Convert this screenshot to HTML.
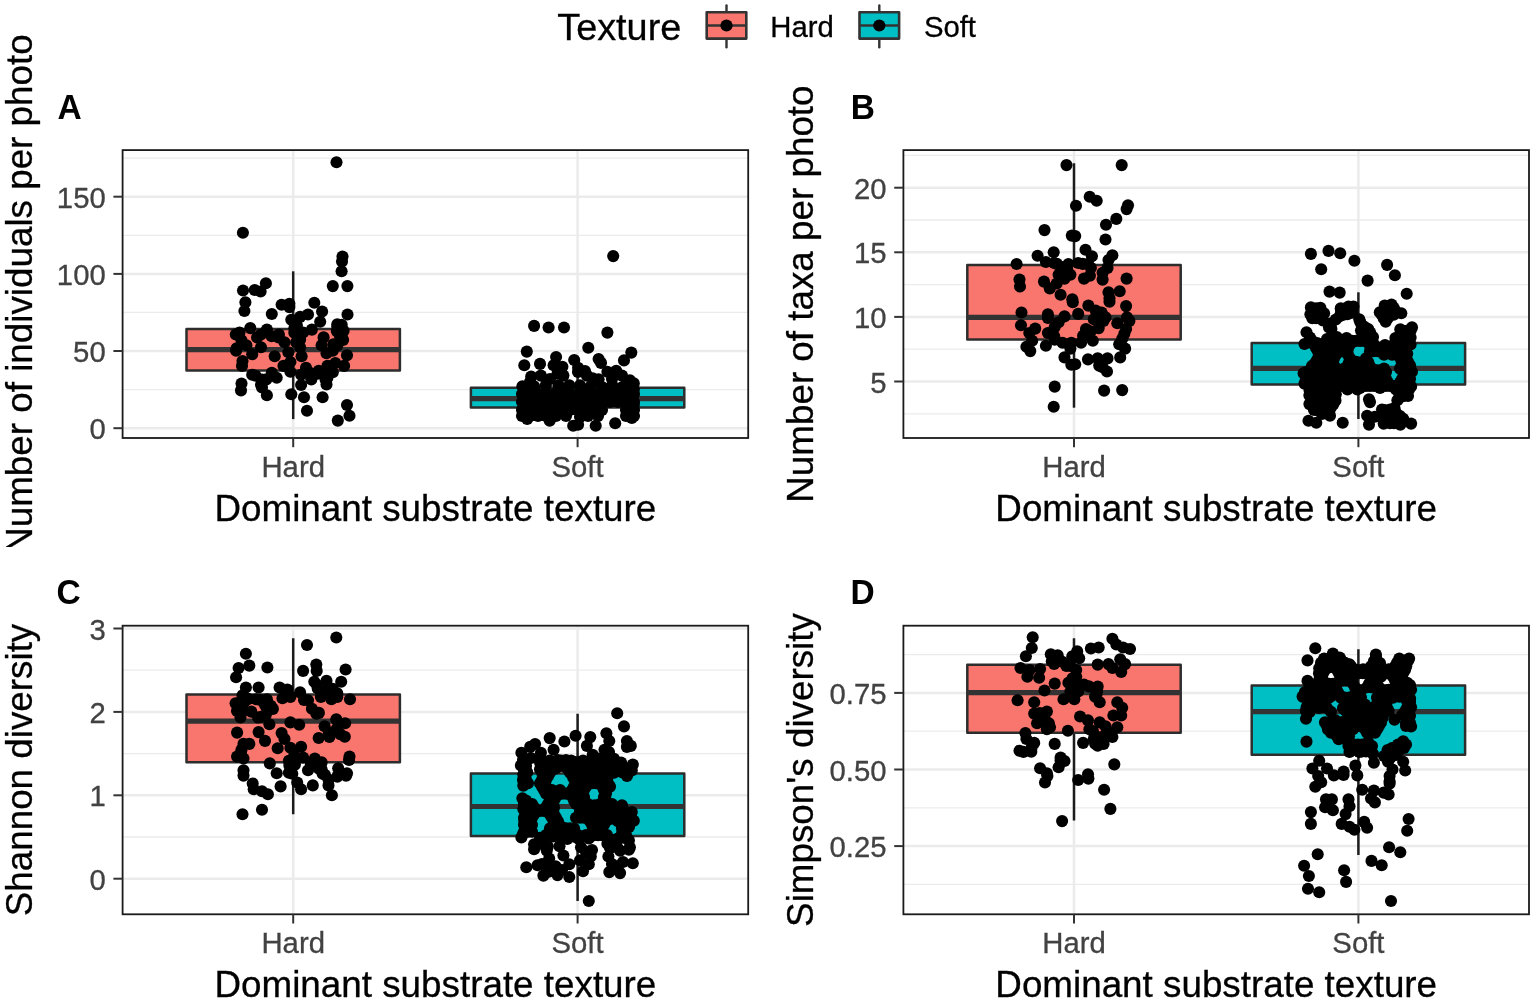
<!DOCTYPE html>
<html><head><meta charset="utf-8"><title>Boxplots</title>
<style>html,body{margin:0;padding:0;background:#fff;overflow:hidden}svg{display:block;font-family:'Liberation Sans', Arial, sans-serif}</style>
</head><body>
<svg width="1535" height="1002" viewBox="0 0 1535 1002">
<defs>
<clipPath id="ctop"><rect x="0" y="0" width="1535" height="547"/></clipPath>
<clipPath id="cbot"><rect x="0" y="547" width="1535" height="455"/></clipPath>
<clipPath id="pcA"><rect x="122.6" y="150.1" width="625.6" height="287.9"/></clipPath>
<clipPath id="pcB"><rect x="903.4" y="150.1" width="625.6" height="287.9"/></clipPath>
<clipPath id="pcC"><rect x="122.6" y="625.7" width="625.6" height="288.6"/></clipPath>
<clipPath id="pcD"><rect x="903.4" y="625.7" width="625.6" height="288.6"/></clipPath>
</defs>
<rect width="1535" height="1002" fill="#fff"/>
<text transform="translate(557.3,40.1)" font-size="37.8" fill="#000" stroke="#000" stroke-width="0.3">Texture</text>
<line x1="726.5" y1="5.4" x2="726.5" y2="47.2" stroke="#333333" stroke-width="2.4" stroke-linecap="round"/>
<rect x="706.7" y="12.2" width="39.6" height="26.4" fill="#F8766D" stroke="#333333" stroke-width="2.6" stroke-linejoin="round"/>
<line x1="706.7" y1="25.5" x2="746.3" y2="25.5" stroke="#333333" stroke-width="2.6"/>
<circle cx="726.5" cy="25.5" r="6.1" fill="#000"/>
<text transform="translate(770.3,37.0) scale(1,1.02)" font-size="29.3" fill="#000" stroke="#000" stroke-width="0.3">Hard</text>
<line x1="879.3" y1="5.4" x2="879.3" y2="47.2" stroke="#333333" stroke-width="2.4" stroke-linecap="round"/>
<rect x="859.5" y="12.2" width="39.6" height="26.4" fill="#00BFC4" stroke="#333333" stroke-width="2.6" stroke-linejoin="round"/>
<line x1="859.5" y1="25.5" x2="899.1" y2="25.5" stroke="#333333" stroke-width="2.6"/>
<circle cx="879.3" cy="25.5" r="6.1" fill="#000"/>
<text transform="translate(923.9,37.0) scale(1,1.02)" font-size="29.3" fill="#000" stroke="#000" stroke-width="0.3">Soft</text>
<g clip-path="url(#pcA)"><line x1="122.6" y1="389.6" x2="748.2" y2="389.6" stroke="#EBEBEB" stroke-width="1.3"/><line x1="122.6" y1="312.4" x2="748.2" y2="312.4" stroke="#EBEBEB" stroke-width="1.3"/><line x1="122.6" y1="235.3" x2="748.2" y2="235.3" stroke="#EBEBEB" stroke-width="1.3"/><line x1="122.6" y1="158.1" x2="748.2" y2="158.1" stroke="#EBEBEB" stroke-width="1.3"/><line x1="122.6" y1="428.2" x2="748.2" y2="428.2" stroke="#EBEBEB" stroke-width="2.5"/><line x1="122.6" y1="351.0" x2="748.2" y2="351.0" stroke="#EBEBEB" stroke-width="2.5"/><line x1="122.6" y1="273.9" x2="748.2" y2="273.9" stroke="#EBEBEB" stroke-width="2.5"/><line x1="122.6" y1="196.7" x2="748.2" y2="196.7" stroke="#EBEBEB" stroke-width="2.5"/><line x1="293.2" y1="150.1" x2="293.2" y2="438.0" stroke="#EBEBEB" stroke-width="2.5"/><line x1="577.6" y1="150.1" x2="577.6" y2="438.0" stroke="#EBEBEB" stroke-width="2.5"/><line x1="293.2" y1="271.3" x2="293.2" y2="329.1" stroke="#1c1c1c" stroke-width="2.5"/><line x1="293.2" y1="370.6" x2="293.2" y2="419.1" stroke="#1c1c1c" stroke-width="2.5"/><rect x="186.5" y="329.1" width="213.4" height="41.5" fill="#F8766D" stroke="#2d2d2d" stroke-width="2.5" stroke-linejoin="round"/><line x1="186.5" y1="349.6" x2="399.9" y2="349.6" stroke="#333333" stroke-width="5.2"/><line x1="577.6" y1="362.0" x2="577.6" y2="387.8" stroke="#1c1c1c" stroke-width="2.5"/><line x1="577.6" y1="407.4" x2="577.6" y2="426.5" stroke="#1c1c1c" stroke-width="2.5"/><rect x="470.9" y="387.8" width="213.4" height="19.6" fill="#00BFC4" stroke="#2d2d2d" stroke-width="2.5" stroke-linejoin="round"/><line x1="470.9" y1="398.7" x2="684.3" y2="398.7" stroke="#333333" stroke-width="5.2"/><g fill="#000"><circle cx="336.5" cy="162.3" r="6.05"/><circle cx="242.9" cy="232.8" r="6.05"/><circle cx="342.5" cy="256.6" r="6.05"/><circle cx="342.0" cy="261.5" r="6.05"/><circle cx="341.6" cy="271.2" r="6.05"/><circle cx="332.8" cy="286.1" r="6.05"/><circle cx="347.4" cy="286.1" r="6.05"/><circle cx="265.9" cy="283.2" r="6.05"/><circle cx="243.0" cy="290.5" r="6.05"/><circle cx="254.7" cy="290.0" r="6.05"/><circle cx="260.6" cy="291.5" r="6.05"/><circle cx="245.4" cy="302.2" r="6.05"/><circle cx="244.4" cy="311.0" r="6.05"/><circle cx="271.8" cy="314.0" r="6.05"/><circle cx="281.6" cy="304.7" r="6.05"/><circle cx="289.4" cy="303.7" r="6.05"/><circle cx="289.4" cy="307.1" r="6.05"/><circle cx="314.3" cy="302.7" r="6.05"/><circle cx="322.1" cy="311.5" r="6.05"/><circle cx="308.0" cy="314.5" r="6.05"/><circle cx="300.1" cy="316.9" r="6.05"/><circle cx="291.3" cy="319.8" r="6.05"/><circle cx="320.2" cy="321.8" r="6.05"/><circle cx="347.5" cy="314.5" r="6.05"/><circle cx="337.3" cy="324.2" r="6.05"/><circle cx="341.7" cy="324.7" r="6.05"/><circle cx="336.8" cy="331.1" r="6.05"/><circle cx="250.3" cy="328.1" r="6.05"/><circle cx="239.5" cy="332.5" r="6.05"/><circle cx="266.9" cy="329.6" r="6.05"/><circle cx="257.1" cy="337.4" r="6.05"/><circle cx="278.6" cy="337.4" r="6.05"/><circle cx="294.3" cy="328.6" r="6.05"/><circle cx="303.1" cy="332.5" r="6.05"/><circle cx="311.9" cy="329.6" r="6.05"/><circle cx="323.6" cy="337.4" r="6.05"/><circle cx="343.1" cy="339.9" r="6.05"/><circle cx="241.5" cy="340.4" r="6.05"/><circle cx="246.4" cy="345.2" r="6.05"/><circle cx="236.6" cy="348.2" r="6.05"/><circle cx="261.0" cy="347.2" r="6.05"/><circle cx="284.5" cy="342.3" r="6.05"/><circle cx="296.2" cy="342.3" r="6.05"/><circle cx="300.1" cy="347.2" r="6.05"/><circle cx="321.6" cy="345.2" r="6.05"/><circle cx="333.4" cy="344.3" r="6.05"/><circle cx="236.1" cy="350.8" r="6.05"/><circle cx="252.2" cy="354.2" r="6.05"/><circle cx="242.5" cy="361.0" r="6.05"/><circle cx="242.0" cy="365.9" r="6.05"/><circle cx="274.7" cy="356.2" r="6.05"/><circle cx="288.4" cy="352.2" r="6.05"/><circle cx="294.3" cy="322.9" r="6.05"/><circle cx="294.3" cy="332.7" r="6.05"/><circle cx="300.1" cy="339.5" r="6.05"/><circle cx="301.6" cy="356.2" r="6.05"/><circle cx="290.4" cy="362.0" r="6.05"/><circle cx="283.5" cy="365.9" r="6.05"/><circle cx="290.4" cy="371.8" r="6.05"/><circle cx="306.0" cy="367.9" r="6.05"/><circle cx="326.5" cy="353.2" r="6.05"/><circle cx="337.3" cy="326.8" r="6.05"/><circle cx="337.3" cy="345.4" r="6.05"/><circle cx="347.0" cy="355.2" r="6.05"/><circle cx="344.1" cy="365.9" r="6.05"/><circle cx="335.3" cy="363.0" r="6.05"/><circle cx="327.5" cy="365.9" r="6.05"/><circle cx="318.7" cy="370.8" r="6.05"/><circle cx="327.5" cy="374.7" r="6.05"/><circle cx="326.5" cy="384.5" r="6.05"/><circle cx="309.9" cy="372.8" r="6.05"/><circle cx="301.1" cy="374.7" r="6.05"/><circle cx="301.1" cy="385.0" r="6.05"/><circle cx="271.8" cy="372.8" r="6.05"/><circle cx="276.7" cy="377.7" r="6.05"/><circle cx="252.2" cy="374.7" r="6.05"/><circle cx="262.0" cy="379.6" r="6.05"/><circle cx="262.0" cy="387.4" r="6.05"/><circle cx="241.5" cy="383.5" r="6.05"/><circle cx="241.0" cy="390.4" r="6.05"/><circle cx="266.9" cy="395.2" r="6.05"/><circle cx="291.3" cy="394.3" r="6.05"/><circle cx="304.0" cy="397.2" r="6.05"/><circle cx="322.6" cy="397.2" r="6.05"/><circle cx="307.0" cy="410.8" r="6.05"/><circle cx="327.5" cy="377.6" r="6.05"/><circle cx="317.7" cy="373.7" r="6.05"/><circle cx="347.0" cy="405.0" r="6.05"/><circle cx="349.5" cy="415.7" r="6.05"/><circle cx="337.8" cy="420.6" r="6.05"/><circle cx="260.9" cy="334.5" r="6.05"/><circle cx="271.7" cy="336.3" r="6.05"/><circle cx="278.9" cy="334.5" r="6.05"/><circle cx="255.6" cy="375.8" r="6.05"/><circle cx="266.3" cy="379.4" r="6.05"/><circle cx="261.0" cy="384.8" r="6.05"/><circle cx="305.9" cy="372.2" r="6.05"/><circle cx="332.8" cy="372.2" r="6.05"/><circle cx="311.3" cy="379.4" r="6.05"/><circle cx="325.6" cy="379.4" r="6.05"/><circle cx="343.6" cy="330.9" r="6.05"/><circle cx="340.0" cy="336.3" r="6.05"/><circle cx="296.9" cy="325.5" r="6.05"/><circle cx="300.5" cy="334.5" r="6.05"/><circle cx="235.8" cy="334.5" r="6.05"/><circle cx="332.8" cy="350.6" r="6.05"/><circle cx="613.2" cy="256.1" r="6.05"/><circle cx="534.1" cy="325.9" r="6.05"/><circle cx="548.6" cy="327.5" r="6.05"/><circle cx="564.0" cy="327.5" r="6.05"/><circle cx="607.4" cy="332.6" r="6.05"/><circle cx="526.8" cy="351.6" r="6.05"/><circle cx="588.3" cy="347.7" r="6.05"/><circle cx="631.3" cy="352.6" r="6.05"/><circle cx="624.0" cy="360.4" r="6.05"/><circle cx="598.6" cy="359.0" r="6.05"/><circle cx="601.0" cy="362.9" r="6.05"/><circle cx="524.3" cy="365.3" r="6.05"/><circle cx="540.0" cy="363.9" r="6.05"/><circle cx="556.1" cy="357.0" r="6.05"/><circle cx="553.6" cy="365.3" r="6.05"/><circle cx="562.4" cy="366.8" r="6.05"/><circle cx="574.2" cy="360.0" r="6.05"/><circle cx="578.1" cy="367.8" r="6.05"/><circle cx="531.2" cy="376.6" r="6.05"/><circle cx="540.9" cy="375.6" r="6.05"/><circle cx="557.5" cy="373.6" r="6.05"/><circle cx="522.4" cy="386.3" r="6.05"/><circle cx="586.9" cy="375.6" r="6.05"/><circle cx="596.6" cy="381.5" r="6.05"/><circle cx="607.4" cy="371.7" r="6.05"/><circle cx="616.2" cy="370.7" r="6.05"/><circle cx="622.0" cy="375.6" r="6.05"/><circle cx="633.8" cy="383.4" r="6.05"/><circle cx="626.9" cy="381.5" r="6.05"/><circle cx="563.4" cy="375.6" r="6.05"/><circle cx="534.1" cy="386.3" r="6.05"/><circle cx="545.8" cy="385.4" r="6.05"/><circle cx="558.5" cy="385.4" r="6.05"/><circle cx="569.3" cy="385.4" r="6.05"/><circle cx="580.0" cy="385.4" r="6.05"/><circle cx="590.8" cy="386.3" r="6.05"/><circle cx="602.5" cy="387.3" r="6.05"/><circle cx="612.3" cy="385.4" r="6.05"/><circle cx="622.0" cy="387.3" r="6.05"/><circle cx="633.8" cy="389.3" r="6.05"/><circle cx="527.2" cy="418.9" r="6.05"/><circle cx="549.7" cy="420.8" r="6.05"/><circle cx="573.2" cy="425.7" r="6.05"/><circle cx="578.1" cy="424.7" r="6.05"/><circle cx="595.7" cy="425.7" r="6.05"/><circle cx="615.2" cy="423.3" r="6.05"/><circle cx="631.8" cy="417.9" r="6.05"/><circle cx="522.0" cy="394.0" r="6.05"/><circle cx="530.0" cy="394.0" r="6.05"/><circle cx="538.0" cy="394.0" r="6.05"/><circle cx="546.0" cy="394.0" r="6.05"/><circle cx="554.0" cy="394.0" r="6.05"/><circle cx="562.0" cy="394.0" r="6.05"/><circle cx="570.0" cy="394.0" r="6.05"/><circle cx="578.0" cy="394.0" r="6.05"/><circle cx="586.0" cy="394.0" r="6.05"/><circle cx="594.0" cy="394.0" r="6.05"/><circle cx="602.0" cy="394.0" r="6.05"/><circle cx="610.0" cy="394.0" r="6.05"/><circle cx="618.0" cy="394.0" r="6.05"/><circle cx="626.0" cy="394.0" r="6.05"/><circle cx="634.0" cy="394.0" r="6.05"/><circle cx="522.0" cy="402.0" r="6.05"/><circle cx="530.0" cy="402.0" r="6.05"/><circle cx="538.0" cy="402.0" r="6.05"/><circle cx="546.0" cy="402.0" r="6.05"/><circle cx="554.0" cy="402.0" r="6.05"/><circle cx="562.0" cy="402.0" r="6.05"/><circle cx="570.0" cy="402.0" r="6.05"/><circle cx="578.0" cy="402.0" r="6.05"/><circle cx="586.0" cy="402.0" r="6.05"/><circle cx="594.0" cy="402.0" r="6.05"/><circle cx="602.0" cy="402.0" r="6.05"/><circle cx="610.0" cy="402.0" r="6.05"/><circle cx="618.0" cy="402.0" r="6.05"/><circle cx="626.0" cy="402.0" r="6.05"/><circle cx="634.0" cy="402.0" r="6.05"/><circle cx="522.0" cy="410.0" r="6.05"/><circle cx="530.0" cy="410.0" r="6.05"/><circle cx="538.0" cy="410.0" r="6.05"/><circle cx="546.0" cy="410.0" r="6.05"/><circle cx="554.0" cy="410.0" r="6.05"/><circle cx="562.0" cy="410.0" r="6.05"/><circle cx="570.0" cy="410.0" r="6.05"/><circle cx="578.0" cy="410.0" r="6.05"/><circle cx="586.0" cy="410.0" r="6.05"/><circle cx="594.0" cy="410.0" r="6.05"/><circle cx="602.0" cy="410.0" r="6.05"/><circle cx="626.0" cy="410.0" r="6.05"/><circle cx="634.0" cy="410.0" r="6.05"/><circle cx="522.0" cy="416.0" r="6.05"/><circle cx="530.0" cy="416.0" r="6.05"/><circle cx="538.0" cy="416.0" r="6.05"/><circle cx="546.0" cy="416.0" r="6.05"/><circle cx="556.0" cy="416.0" r="6.05"/><circle cx="566.0" cy="416.0" r="6.05"/><circle cx="588.0" cy="416.0" r="6.05"/><circle cx="598.0" cy="416.0" r="6.05"/><circle cx="626.0" cy="416.0" r="6.05"/><circle cx="634.0" cy="416.0" r="6.05"/><circle cx="633.8" cy="405.0" r="6.05"/><circle cx="550.0" cy="379.0" r="6.05"/><circle cx="592.7" cy="378.2" r="6.05"/><circle cx="598.6" cy="379.2" r="6.05"/><circle cx="629.9" cy="380.2" r="6.05"/><circle cx="585.0" cy="371.0" r="6.05"/><circle cx="612.0" cy="379.0" r="6.05"/><circle cx="530.0" cy="382.0" r="6.05"/><circle cx="578.0" cy="372.0" r="6.05"/><circle cx="580.0" cy="417.0" r="6.05"/><circle cx="584.0" cy="412.0" r="6.05"/></g></g>
<rect x="122.6" y="150.1" width="625.6" height="287.9" fill="none" stroke="#1a1a1a" stroke-width="1.8"/>
<line x1="113.4" y1="428.2" x2="122.6" y2="428.2" stroke="#333333" stroke-width="2"/>
<text transform="translate(105.7,439.2) scale(1,1.035)" font-size="29.3" fill="#424242" stroke="#424242" stroke-width="0.3" text-anchor="end">0</text>
<line x1="113.4" y1="351.0" x2="122.6" y2="351.0" stroke="#333333" stroke-width="2"/>
<text transform="translate(105.7,362.0) scale(1,1.035)" font-size="29.3" fill="#424242" stroke="#424242" stroke-width="0.3" text-anchor="end">50</text>
<line x1="113.4" y1="273.9" x2="122.6" y2="273.9" stroke="#333333" stroke-width="2"/>
<text transform="translate(105.7,284.9) scale(1,1.035)" font-size="29.3" fill="#424242" stroke="#424242" stroke-width="0.3" text-anchor="end">100</text>
<line x1="113.4" y1="196.7" x2="122.6" y2="196.7" stroke="#333333" stroke-width="2"/>
<text transform="translate(105.7,207.7) scale(1,1.035)" font-size="29.3" fill="#424242" stroke="#424242" stroke-width="0.3" text-anchor="end">150</text>
<line x1="293.2" y1="438.0" x2="293.2" y2="447.2" stroke="#333333" stroke-width="2"/>
<text transform="translate(293.2,477.0) scale(1,1.02)" font-size="29.3" fill="#424242" stroke="#424242" stroke-width="0.3" text-anchor="middle">Hard</text>
<line x1="577.6" y1="438.0" x2="577.6" y2="447.2" stroke="#333333" stroke-width="2"/>
<text transform="translate(577.6,477.0) scale(1,1.02)" font-size="29.3" fill="#424242" stroke="#424242" stroke-width="0.3" text-anchor="middle">Soft</text>
<text transform="translate(435.4,520.6)" font-size="36.8" fill="#000" stroke="#000" stroke-width="0.3" text-anchor="middle">Dominant substrate texture</text>
<g clip-path="url(#ctop)"><text transform="translate(32.3,294.1) rotate(-90)" font-size="36.8" fill="#000" stroke="#000" stroke-width="0.3" text-anchor="middle">Number of individuals per photo</text></g>
<text transform="translate(57.4,119.1) scale(1,1.03)" font-size="33.5" fill="#000" font-weight="bold">A</text>
<g clip-path="url(#pcB)"><line x1="903.4" y1="413.8" x2="1529.0" y2="413.8" stroke="#EBEBEB" stroke-width="1.3"/><line x1="903.4" y1="349.2" x2="1529.0" y2="349.2" stroke="#EBEBEB" stroke-width="1.3"/><line x1="903.4" y1="284.6" x2="1529.0" y2="284.6" stroke="#EBEBEB" stroke-width="1.3"/><line x1="903.4" y1="220.0" x2="1529.0" y2="220.0" stroke="#EBEBEB" stroke-width="1.3"/><line x1="903.4" y1="155.4" x2="1529.0" y2="155.4" stroke="#EBEBEB" stroke-width="1.3"/><line x1="903.4" y1="381.5" x2="1529.0" y2="381.5" stroke="#EBEBEB" stroke-width="2.5"/><line x1="903.4" y1="316.9" x2="1529.0" y2="316.9" stroke="#EBEBEB" stroke-width="2.5"/><line x1="903.4" y1="252.3" x2="1529.0" y2="252.3" stroke="#EBEBEB" stroke-width="2.5"/><line x1="903.4" y1="187.7" x2="1529.0" y2="187.7" stroke="#EBEBEB" stroke-width="2.5"/><line x1="1074.0" y1="150.1" x2="1074.0" y2="438.0" stroke="#EBEBEB" stroke-width="2.5"/><line x1="1358.4" y1="150.1" x2="1358.4" y2="438.0" stroke="#EBEBEB" stroke-width="2.5"/><line x1="1074.0" y1="163.2" x2="1074.0" y2="265.0" stroke="#1c1c1c" stroke-width="2.5"/><line x1="1074.0" y1="339.6" x2="1074.0" y2="407.7" stroke="#1c1c1c" stroke-width="2.5"/><rect x="967.3" y="265.0" width="213.4" height="74.6" fill="#F8766D" stroke="#2d2d2d" stroke-width="2.5" stroke-linejoin="round"/><line x1="967.3" y1="317.4" x2="1180.7" y2="317.4" stroke="#333333" stroke-width="5.2"/><line x1="1358.4" y1="292.3" x2="1358.4" y2="342.9" stroke="#1c1c1c" stroke-width="2.5"/><line x1="1358.4" y1="384.5" x2="1358.4" y2="419.0" stroke="#1c1c1c" stroke-width="2.5"/><rect x="1251.7" y="342.9" width="213.4" height="41.6" fill="#00BFC4" stroke="#2d2d2d" stroke-width="2.5" stroke-linejoin="round"/><line x1="1251.7" y1="368.4" x2="1465.1" y2="368.4" stroke="#333333" stroke-width="5.2"/><g fill="#000"><circle cx="1066.5" cy="165.1" r="6.05"/><circle cx="1121.7" cy="165.1" r="6.05"/><circle cx="1089.7" cy="196.7" r="6.05"/><circle cx="1096.7" cy="200.8" r="6.05"/><circle cx="1076.0" cy="205.7" r="6.05"/><circle cx="1128.0" cy="205.2" r="6.05"/><circle cx="1126.6" cy="209.1" r="6.05"/><circle cx="1116.3" cy="218.9" r="6.05"/><circle cx="1106.0" cy="224.8" r="6.05"/><circle cx="1044.5" cy="230.1" r="6.05"/><circle cx="1071.8" cy="235.6" r="6.05"/><circle cx="1075.2" cy="236.1" r="6.05"/><circle cx="1105.5" cy="239.5" r="6.05"/><circle cx="1085.5" cy="249.8" r="6.05"/><circle cx="1091.9" cy="256.2" r="6.05"/><circle cx="1037.6" cy="255.7" r="6.05"/><circle cx="1053.7" cy="252.2" r="6.05"/><circle cx="1016.6" cy="264.0" r="6.05"/><circle cx="1112.4" cy="255.2" r="6.05"/><circle cx="1108.5" cy="260.1" r="6.05"/><circle cx="1045.9" cy="262.0" r="6.05"/><circle cx="1054.2" cy="263.0" r="6.05"/><circle cx="1060.6" cy="266.9" r="6.05"/><circle cx="1068.4" cy="264.0" r="6.05"/><circle cx="1078.2" cy="263.0" r="6.05"/><circle cx="1088.0" cy="264.0" r="6.05"/><circle cx="1090.9" cy="267.9" r="6.05"/><circle cx="1107.5" cy="267.9" r="6.05"/><circle cx="1102.6" cy="272.8" r="6.05"/><circle cx="1102.6" cy="279.6" r="6.05"/><circle cx="1070.4" cy="274.7" r="6.05"/><circle cx="1064.5" cy="278.6" r="6.05"/><circle cx="1058.6" cy="274.7" r="6.05"/><circle cx="1084.0" cy="278.6" r="6.05"/><circle cx="1089.9" cy="275.7" r="6.05"/><circle cx="1019.5" cy="279.6" r="6.05"/><circle cx="1020.0" cy="286.5" r="6.05"/><circle cx="1044.0" cy="281.6" r="6.05"/><circle cx="1049.8" cy="288.4" r="6.05"/><circle cx="1056.7" cy="283.5" r="6.05"/><circle cx="1060.6" cy="294.8" r="6.05"/><circle cx="1072.3" cy="299.2" r="6.05"/><circle cx="1126.6" cy="278.6" r="6.05"/><circle cx="1108.5" cy="292.3" r="6.05"/><circle cx="1119.7" cy="291.3" r="6.05"/><circle cx="1109.5" cy="298.2" r="6.05"/><circle cx="1072.8" cy="302.2" r="6.05"/><circle cx="1088.4" cy="305.6" r="6.05"/><circle cx="1109.5" cy="301.7" r="6.05"/><circle cx="1126.1" cy="306.1" r="6.05"/><circle cx="1021.5" cy="312.5" r="6.05"/><circle cx="1047.9" cy="314.4" r="6.05"/><circle cx="1047.9" cy="317.9" r="6.05"/><circle cx="1064.5" cy="316.4" r="6.05"/><circle cx="1078.2" cy="313.9" r="6.05"/><circle cx="1058.6" cy="322.2" r="6.05"/><circle cx="1054.7" cy="327.1" r="6.05"/><circle cx="1101.6" cy="312.5" r="6.05"/><circle cx="1105.5" cy="317.4" r="6.05"/><circle cx="1093.8" cy="319.3" r="6.05"/><circle cx="1098.7" cy="328.1" r="6.05"/><circle cx="1086.0" cy="329.1" r="6.05"/><circle cx="1127.0" cy="317.4" r="6.05"/><circle cx="1117.3" cy="323.2" r="6.05"/><circle cx="1126.1" cy="329.1" r="6.05"/><circle cx="1021.0" cy="325.2" r="6.05"/><circle cx="1035.2" cy="328.6" r="6.05"/><circle cx="1029.3" cy="333.0" r="6.05"/><circle cx="1047.9" cy="333.0" r="6.05"/><circle cx="1054.7" cy="339.8" r="6.05"/><circle cx="1032.2" cy="340.8" r="6.05"/><circle cx="1026.4" cy="346.7" r="6.05"/><circle cx="1030.3" cy="351.1" r="6.05"/><circle cx="1045.9" cy="345.7" r="6.05"/><circle cx="1062.5" cy="342.8" r="6.05"/><circle cx="1071.3" cy="342.8" r="6.05"/><circle cx="1070.4" cy="348.6" r="6.05"/><circle cx="1081.1" cy="342.8" r="6.05"/><circle cx="1083.1" cy="335.9" r="6.05"/><circle cx="1092.8" cy="340.8" r="6.05"/><circle cx="1122.2" cy="338.9" r="6.05"/><circle cx="1119.2" cy="344.2" r="6.05"/><circle cx="1125.1" cy="348.6" r="6.05"/><circle cx="1120.2" cy="357.4" r="6.05"/><circle cx="1064.5" cy="357.4" r="6.05"/><circle cx="1075.2" cy="364.3" r="6.05"/><circle cx="1088.0" cy="359.4" r="6.05"/><circle cx="1097.7" cy="358.4" r="6.05"/><circle cx="1107.5" cy="358.4" r="6.05"/><circle cx="1102.6" cy="367.2" r="6.05"/><circle cx="1071.3" cy="364.7" r="6.05"/><circle cx="1099.2" cy="365.6" r="6.05"/><circle cx="1107.0" cy="371.5" r="6.05"/><circle cx="1054.7" cy="386.6" r="6.05"/><circle cx="1053.7" cy="406.7" r="6.05"/><circle cx="1104.1" cy="390.6" r="6.05"/><circle cx="1122.2" cy="390.1" r="6.05"/><circle cx="1056.9" cy="263.9" r="6.05"/><circle cx="1067.2" cy="269.1" r="6.05"/><circle cx="1082.8" cy="263.9" r="6.05"/><circle cx="1095.7" cy="310.6" r="6.05"/><circle cx="1103.5" cy="320.9" r="6.05"/><circle cx="1090.6" cy="331.3" r="6.05"/><circle cx="1124.3" cy="333.9" r="6.05"/><circle cx="1129.4" cy="320.9" r="6.05"/><circle cx="1054.3" cy="336.5" r="6.05"/><circle cx="1310.9" cy="253.9" r="6.05"/><circle cx="1328.5" cy="250.9" r="6.05"/><circle cx="1340.2" cy="253.2" r="6.05"/><circle cx="1354.4" cy="260.7" r="6.05"/><circle cx="1321.2" cy="269.3" r="6.05"/><circle cx="1387.1" cy="264.9" r="6.05"/><circle cx="1394.9" cy="275.2" r="6.05"/><circle cx="1367.6" cy="280.6" r="6.05"/><circle cx="1329.5" cy="291.6" r="6.05"/><circle cx="1339.7" cy="292.6" r="6.05"/><circle cx="1406.7" cy="293.7" r="6.05"/><circle cx="1310.9" cy="307.4" r="6.05"/><circle cx="1316.3" cy="308.4" r="6.05"/><circle cx="1310.4" cy="314.3" r="6.05"/><circle cx="1324.1" cy="313.3" r="6.05"/><circle cx="1340.7" cy="308.4" r="6.05"/><circle cx="1348.5" cy="306.5" r="6.05"/><circle cx="1353.4" cy="306.5" r="6.05"/><circle cx="1339.7" cy="316.2" r="6.05"/><circle cx="1347.5" cy="314.3" r="6.05"/><circle cx="1359.3" cy="319.2" r="6.05"/><circle cx="1384.7" cy="305.5" r="6.05"/><circle cx="1391.5" cy="304.5" r="6.05"/><circle cx="1379.8" cy="312.3" r="6.05"/><circle cx="1388.6" cy="312.3" r="6.05"/><circle cx="1401.3" cy="313.3" r="6.05"/><circle cx="1343.6" cy="314.7" r="6.05"/><circle cx="1335.8" cy="319.5" r="6.05"/><circle cx="1329.0" cy="327.4" r="6.05"/><circle cx="1365.1" cy="327.4" r="6.05"/><circle cx="1400.3" cy="329.3" r="6.05"/><circle cx="1412.0" cy="327.4" r="6.05"/><circle cx="1306.5" cy="332.2" r="6.05"/><circle cx="1304.5" cy="344.0" r="6.05"/><circle cx="1317.2" cy="343.0" r="6.05"/><circle cx="1327.0" cy="339.1" r="6.05"/><circle cx="1336.8" cy="337.1" r="6.05"/><circle cx="1346.6" cy="338.1" r="6.05"/><circle cx="1363.2" cy="337.1" r="6.05"/><circle cx="1373.0" cy="337.1" r="6.05"/><circle cx="1370.0" cy="345.9" r="6.05"/><circle cx="1395.4" cy="338.1" r="6.05"/><circle cx="1409.1" cy="341.0" r="6.05"/><circle cx="1407.2" cy="353.7" r="6.05"/><circle cx="1397.4" cy="348.9" r="6.05"/><circle cx="1386.6" cy="352.8" r="6.05"/><circle cx="1347.5" cy="350.8" r="6.05"/><circle cx="1335.8" cy="346.9" r="6.05"/><circle cx="1329.0" cy="354.7" r="6.05"/><circle cx="1320.2" cy="356.7" r="6.05"/><circle cx="1314.3" cy="364.5" r="6.05"/><circle cx="1303.6" cy="373.3" r="6.05"/><circle cx="1326.0" cy="364.5" r="6.05"/><circle cx="1348.5" cy="363.5" r="6.05"/><circle cx="1359.3" cy="362.5" r="6.05"/><circle cx="1369.0" cy="364.5" r="6.05"/><circle cx="1401.3" cy="360.6" r="6.05"/><circle cx="1410.1" cy="368.4" r="6.05"/><circle cx="1402.3" cy="370.4" r="6.05"/><circle cx="1377.8" cy="370.4" r="6.05"/><circle cx="1365.1" cy="372.3" r="6.05"/><circle cx="1353.4" cy="370.4" r="6.05"/><circle cx="1341.7" cy="370.4" r="6.05"/><circle cx="1330.0" cy="372.3" r="6.05"/><circle cx="1317.2" cy="372.3" r="6.05"/><circle cx="1408.1" cy="377.2" r="6.05"/><circle cx="1304.5" cy="383.6" r="6.05"/><circle cx="1309.4" cy="395.3" r="6.05"/><circle cx="1309.4" cy="404.1" r="6.05"/><circle cx="1308.5" cy="420.7" r="6.05"/><circle cx="1316.3" cy="422.7" r="6.05"/><circle cx="1319.2" cy="410.9" r="6.05"/><circle cx="1330.0" cy="415.8" r="6.05"/><circle cx="1331.9" cy="406.0" r="6.05"/><circle cx="1324.1" cy="397.2" r="6.05"/><circle cx="1335.8" cy="394.3" r="6.05"/><circle cx="1342.7" cy="422.7" r="6.05"/><circle cx="1347.5" cy="389.4" r="6.05"/><circle cx="1357.3" cy="389.4" r="6.05"/><circle cx="1369.0" cy="399.2" r="6.05"/><circle cx="1370.0" cy="402.1" r="6.05"/><circle cx="1367.1" cy="415.8" r="6.05"/><circle cx="1369.0" cy="424.6" r="6.05"/><circle cx="1374.9" cy="416.8" r="6.05"/><circle cx="1383.7" cy="423.6" r="6.05"/><circle cx="1384.7" cy="410.0" r="6.05"/><circle cx="1394.5" cy="408.0" r="6.05"/><circle cx="1396.4" cy="415.8" r="6.05"/><circle cx="1400.3" cy="424.6" r="6.05"/><circle cx="1403.2" cy="418.7" r="6.05"/><circle cx="1411.1" cy="423.6" r="6.05"/><circle cx="1403.2" cy="396.3" r="6.05"/><circle cx="1397.4" cy="400.2" r="6.05"/><circle cx="1411.1" cy="386.5" r="6.05"/><circle cx="1412.0" cy="371.8" r="6.05"/><circle cx="1310.0" cy="379.0" r="6.05"/><circle cx="1318.0" cy="379.0" r="6.05"/><circle cx="1326.0" cy="379.0" r="6.05"/><circle cx="1334.0" cy="379.0" r="6.05"/><circle cx="1342.0" cy="379.0" r="6.05"/><circle cx="1350.0" cy="379.0" r="6.05"/><circle cx="1358.0" cy="379.0" r="6.05"/><circle cx="1366.0" cy="379.0" r="6.05"/><circle cx="1374.0" cy="379.0" r="6.05"/><circle cx="1382.0" cy="379.0" r="6.05"/><circle cx="1406.0" cy="379.0" r="6.05"/><circle cx="1310.0" cy="386.0" r="6.05"/><circle cx="1318.0" cy="386.0" r="6.05"/><circle cx="1326.0" cy="386.0" r="6.05"/><circle cx="1334.0" cy="386.0" r="6.05"/><circle cx="1342.0" cy="386.0" r="6.05"/><circle cx="1350.0" cy="386.0" r="6.05"/><circle cx="1358.0" cy="386.0" r="6.05"/><circle cx="1366.0" cy="386.0" r="6.05"/><circle cx="1374.0" cy="386.0" r="6.05"/><circle cx="1382.0" cy="386.0" r="6.05"/><circle cx="1390.0" cy="386.0" r="6.05"/><circle cx="1398.0" cy="386.0" r="6.05"/><circle cx="1318.0" cy="392.0" r="6.05"/><circle cx="1328.0" cy="388.0" r="6.05"/><circle cx="1310.0" cy="337.5" r="6.05"/><circle cx="1312.0" cy="340.9" r="6.05"/><circle cx="1332.0" cy="340.9" r="6.05"/><circle cx="1336.0" cy="340.9" r="6.05"/><circle cx="1340.0" cy="340.9" r="6.05"/><circle cx="1344.0" cy="340.9" r="6.05"/><circle cx="1348.0" cy="340.9" r="6.05"/><circle cx="1352.0" cy="340.9" r="6.05"/><circle cx="1356.0" cy="340.9" r="6.05"/><circle cx="1360.0" cy="340.9" r="6.05"/><circle cx="1364.0" cy="340.9" r="6.05"/><circle cx="1314.0" cy="344.4" r="6.05"/><circle cx="1322.0" cy="344.4" r="6.05"/><circle cx="1326.0" cy="344.4" r="6.05"/><circle cx="1330.0" cy="344.4" r="6.05"/><circle cx="1334.0" cy="344.4" r="6.05"/><circle cx="1338.0" cy="344.4" r="6.05"/><circle cx="1342.0" cy="344.4" r="6.05"/><circle cx="1346.0" cy="344.4" r="6.05"/><circle cx="1350.0" cy="344.4" r="6.05"/><circle cx="1374.0" cy="344.4" r="6.05"/><circle cx="1394.0" cy="344.4" r="6.05"/><circle cx="1316.0" cy="347.9" r="6.05"/><circle cx="1320.0" cy="347.9" r="6.05"/><circle cx="1324.0" cy="347.9" r="6.05"/><circle cx="1328.0" cy="347.9" r="6.05"/><circle cx="1332.0" cy="347.9" r="6.05"/><circle cx="1340.0" cy="347.9" r="6.05"/><circle cx="1344.0" cy="347.9" r="6.05"/><circle cx="1348.0" cy="347.9" r="6.05"/><circle cx="1372.0" cy="347.9" r="6.05"/><circle cx="1376.0" cy="347.9" r="6.05"/><circle cx="1380.0" cy="347.9" r="6.05"/><circle cx="1384.0" cy="347.9" r="6.05"/><circle cx="1388.0" cy="347.9" r="6.05"/><circle cx="1392.0" cy="347.9" r="6.05"/><circle cx="1400.0" cy="347.9" r="6.05"/><circle cx="1318.0" cy="351.3" r="6.05"/><circle cx="1322.0" cy="351.3" r="6.05"/><circle cx="1326.0" cy="351.3" r="6.05"/><circle cx="1330.0" cy="351.3" r="6.05"/><circle cx="1334.0" cy="351.3" r="6.05"/><circle cx="1338.0" cy="351.3" r="6.05"/><circle cx="1342.0" cy="351.3" r="6.05"/><circle cx="1370.0" cy="351.3" r="6.05"/><circle cx="1374.0" cy="351.3" r="6.05"/><circle cx="1378.0" cy="351.3" r="6.05"/><circle cx="1382.0" cy="351.3" r="6.05"/><circle cx="1390.0" cy="351.3" r="6.05"/><circle cx="1394.0" cy="351.3" r="6.05"/><circle cx="1402.0" cy="351.3" r="6.05"/><circle cx="1406.0" cy="351.3" r="6.05"/><circle cx="1324.0" cy="354.8" r="6.05"/><circle cx="1332.0" cy="354.8" r="6.05"/><circle cx="1336.0" cy="354.8" r="6.05"/><circle cx="1348.0" cy="354.8" r="6.05"/><circle cx="1384.0" cy="354.8" r="6.05"/><circle cx="1392.0" cy="354.8" r="6.05"/><circle cx="1396.0" cy="354.8" r="6.05"/><circle cx="1400.0" cy="354.8" r="6.05"/><circle cx="1404.0" cy="354.8" r="6.05"/><circle cx="1318.0" cy="358.2" r="6.05"/><circle cx="1326.0" cy="358.2" r="6.05"/><circle cx="1330.0" cy="358.2" r="6.05"/><circle cx="1334.0" cy="358.2" r="6.05"/><circle cx="1350.0" cy="358.2" r="6.05"/><circle cx="1366.0" cy="358.2" r="6.05"/><circle cx="1402.0" cy="358.2" r="6.05"/><circle cx="1406.0" cy="358.2" r="6.05"/><circle cx="1316.0" cy="361.7" r="6.05"/><circle cx="1320.0" cy="361.7" r="6.05"/><circle cx="1324.0" cy="361.7" r="6.05"/><circle cx="1328.0" cy="361.7" r="6.05"/><circle cx="1332.0" cy="361.7" r="6.05"/><circle cx="1352.0" cy="361.7" r="6.05"/><circle cx="1356.0" cy="361.7" r="6.05"/><circle cx="1364.0" cy="361.7" r="6.05"/><circle cx="1368.0" cy="361.7" r="6.05"/><circle cx="1404.0" cy="361.7" r="6.05"/><circle cx="1408.0" cy="361.7" r="6.05"/><circle cx="1318.0" cy="365.2" r="6.05"/><circle cx="1322.0" cy="365.2" r="6.05"/><circle cx="1330.0" cy="365.2" r="6.05"/><circle cx="1334.0" cy="365.2" r="6.05"/><circle cx="1354.0" cy="365.2" r="6.05"/><circle cx="1358.0" cy="365.2" r="6.05"/><circle cx="1362.0" cy="365.2" r="6.05"/><circle cx="1366.0" cy="365.2" r="6.05"/><circle cx="1402.0" cy="365.2" r="6.05"/><circle cx="1406.0" cy="365.2" r="6.05"/><circle cx="1410.0" cy="365.2" r="6.05"/><circle cx="1312.0" cy="368.6" r="6.05"/><circle cx="1316.0" cy="368.6" r="6.05"/><circle cx="1320.0" cy="368.6" r="6.05"/><circle cx="1324.0" cy="368.6" r="6.05"/><circle cx="1328.0" cy="368.6" r="6.05"/><circle cx="1332.0" cy="368.6" r="6.05"/><circle cx="1336.0" cy="368.6" r="6.05"/><circle cx="1344.0" cy="368.6" r="6.05"/><circle cx="1348.0" cy="368.6" r="6.05"/><circle cx="1356.0" cy="368.6" r="6.05"/><circle cx="1360.0" cy="368.6" r="6.05"/><circle cx="1364.0" cy="368.6" r="6.05"/><circle cx="1368.0" cy="368.6" r="6.05"/><circle cx="1372.0" cy="368.6" r="6.05"/><circle cx="1384.0" cy="368.6" r="6.05"/><circle cx="1400.0" cy="368.6" r="6.05"/><circle cx="1306.0" cy="372.1" r="6.05"/><circle cx="1310.0" cy="372.1" r="6.05"/><circle cx="1314.0" cy="372.1" r="6.05"/><circle cx="1322.0" cy="372.1" r="6.05"/><circle cx="1326.0" cy="372.1" r="6.05"/><circle cx="1334.0" cy="372.1" r="6.05"/><circle cx="1338.0" cy="372.1" r="6.05"/><circle cx="1346.0" cy="372.1" r="6.05"/><circle cx="1350.0" cy="372.1" r="6.05"/><circle cx="1358.0" cy="372.1" r="6.05"/><circle cx="1362.0" cy="372.1" r="6.05"/><circle cx="1370.0" cy="372.1" r="6.05"/><circle cx="1374.0" cy="372.1" r="6.05"/><circle cx="1382.0" cy="372.1" r="6.05"/><circle cx="1386.0" cy="372.1" r="6.05"/><circle cx="1406.0" cy="372.1" r="6.05"/><circle cx="1308.0" cy="375.6" r="6.05"/><circle cx="1312.0" cy="375.6" r="6.05"/><circle cx="1316.0" cy="375.6" r="6.05"/><circle cx="1320.0" cy="375.6" r="6.05"/><circle cx="1324.0" cy="375.6" r="6.05"/><circle cx="1328.0" cy="375.6" r="6.05"/><circle cx="1332.0" cy="375.6" r="6.05"/><circle cx="1336.0" cy="375.6" r="6.05"/><circle cx="1340.0" cy="375.6" r="6.05"/><circle cx="1344.0" cy="375.6" r="6.05"/><circle cx="1348.0" cy="375.6" r="6.05"/><circle cx="1352.0" cy="375.6" r="6.05"/><circle cx="1356.0" cy="375.6" r="6.05"/><circle cx="1360.0" cy="375.6" r="6.05"/><circle cx="1364.0" cy="375.6" r="6.05"/><circle cx="1368.0" cy="375.6" r="6.05"/><circle cx="1372.0" cy="375.6" r="6.05"/><circle cx="1376.0" cy="375.6" r="6.05"/><circle cx="1380.0" cy="375.6" r="6.05"/><circle cx="1384.0" cy="375.6" r="6.05"/><circle cx="1404.0" cy="375.6" r="6.05"/><circle cx="1306.0" cy="379.0" r="6.05"/><circle cx="1314.0" cy="379.0" r="6.05"/><circle cx="1322.0" cy="379.0" r="6.05"/><circle cx="1330.0" cy="379.0" r="6.05"/><circle cx="1338.0" cy="379.0" r="6.05"/><circle cx="1346.0" cy="379.0" r="6.05"/><circle cx="1354.0" cy="379.0" r="6.05"/><circle cx="1362.0" cy="379.0" r="6.05"/><circle cx="1370.0" cy="379.0" r="6.05"/><circle cx="1378.0" cy="379.0" r="6.05"/><circle cx="1386.0" cy="379.0" r="6.05"/><circle cx="1402.0" cy="379.0" r="6.05"/><circle cx="1410.0" cy="379.0" r="6.05"/><circle cx="1308.0" cy="382.5" r="6.05"/><circle cx="1312.0" cy="382.5" r="6.05"/><circle cx="1316.0" cy="382.5" r="6.05"/><circle cx="1320.0" cy="382.5" r="6.05"/><circle cx="1324.0" cy="382.5" r="6.05"/><circle cx="1328.0" cy="382.5" r="6.05"/><circle cx="1332.0" cy="382.5" r="6.05"/><circle cx="1336.0" cy="382.5" r="6.05"/><circle cx="1340.0" cy="382.5" r="6.05"/><circle cx="1344.0" cy="382.5" r="6.05"/><circle cx="1348.0" cy="382.5" r="6.05"/><circle cx="1352.0" cy="382.5" r="6.05"/><circle cx="1356.0" cy="382.5" r="6.05"/><circle cx="1360.0" cy="382.5" r="6.05"/><circle cx="1364.0" cy="382.5" r="6.05"/><circle cx="1368.0" cy="382.5" r="6.05"/><circle cx="1372.0" cy="382.5" r="6.05"/><circle cx="1376.0" cy="382.5" r="6.05"/><circle cx="1380.0" cy="382.5" r="6.05"/><circle cx="1384.0" cy="382.5" r="6.05"/><circle cx="1388.0" cy="382.5" r="6.05"/><circle cx="1400.0" cy="382.5" r="6.05"/><circle cx="1404.0" cy="382.5" r="6.05"/><circle cx="1408.0" cy="382.5" r="6.05"/><circle cx="1314.0" cy="386.0" r="6.05"/><circle cx="1322.0" cy="386.0" r="6.05"/><circle cx="1330.0" cy="386.0" r="6.05"/><circle cx="1338.0" cy="386.0" r="6.05"/><circle cx="1346.0" cy="386.0" r="6.05"/><circle cx="1354.0" cy="386.0" r="6.05"/><circle cx="1362.0" cy="386.0" r="6.05"/><circle cx="1370.0" cy="386.0" r="6.05"/><circle cx="1378.0" cy="386.0" r="6.05"/><circle cx="1386.0" cy="386.0" r="6.05"/><circle cx="1394.0" cy="386.0" r="6.05"/><circle cx="1402.0" cy="386.0" r="6.05"/><circle cx="1406.0" cy="386.0" r="6.05"/><circle cx="1396.0" cy="389.4" r="6.05"/><circle cx="1400.0" cy="389.4" r="6.05"/><circle cx="1385.0" cy="345.0" r="6.05"/><circle cx="1380.0" cy="388.0" r="6.05"/><circle cx="1360.0" cy="388.0" r="6.05"/><circle cx="1312.0" cy="366.0" r="6.05"/><circle cx="1309.0" cy="342.0" r="6.05"/><circle cx="1312.2" cy="311.2" r="6.05"/><circle cx="1316.2" cy="311.2" r="6.05"/><circle cx="1320.2" cy="311.2" r="6.05"/><circle cx="1314.2" cy="314.6" r="6.05"/><circle cx="1318.2" cy="314.6" r="6.05"/><circle cx="1312.2" cy="318.1" r="6.05"/><circle cx="1316.2" cy="318.1" r="6.05"/><circle cx="1320.2" cy="318.1" r="6.05"/><circle cx="1320.4" cy="307.7" r="6.05"/><circle cx="1322.9" cy="320.4" r="6.05"/><circle cx="1346.9" cy="309.5" r="6.05"/><circle cx="1350.9" cy="309.5" r="6.05"/><circle cx="1340.9" cy="312.9" r="6.05"/><circle cx="1330.9" cy="323.3" r="6.05"/><circle cx="1352.6" cy="312.8" r="6.05"/><circle cx="1331.4" cy="328.9" r="6.05"/><circle cx="1362.2" cy="325.6" r="6.05"/><circle cx="1368.2" cy="329.0" r="6.05"/><circle cx="1366.2" cy="332.5" r="6.05"/><circle cx="1370.2" cy="332.5" r="6.05"/><circle cx="1368.2" cy="336.0" r="6.05"/><circle cx="1360.2" cy="322.1" r="6.05"/><circle cx="1368.7" cy="339.0" r="6.05"/><circle cx="1361.0" cy="330.6" r="6.05"/><circle cx="1385.7" cy="307.8" r="6.05"/><circle cx="1389.7" cy="307.8" r="6.05"/><circle cx="1393.7" cy="307.8" r="6.05"/><circle cx="1383.7" cy="311.2" r="6.05"/><circle cx="1391.7" cy="311.2" r="6.05"/><circle cx="1395.7" cy="311.2" r="6.05"/><circle cx="1381.7" cy="314.7" r="6.05"/><circle cx="1385.7" cy="314.7" r="6.05"/><circle cx="1389.7" cy="314.7" r="6.05"/><circle cx="1393.7" cy="314.7" r="6.05"/><circle cx="1383.7" cy="318.2" r="6.05"/><circle cx="1387.7" cy="318.2" r="6.05"/><circle cx="1385.7" cy="321.6" r="6.05"/><circle cx="1402.6" cy="330.7" r="6.05"/><circle cx="1406.6" cy="330.7" r="6.05"/><circle cx="1410.6" cy="330.7" r="6.05"/><circle cx="1400.6" cy="334.1" r="6.05"/><circle cx="1404.6" cy="334.1" r="6.05"/><circle cx="1408.6" cy="334.1" r="6.05"/><circle cx="1398.6" cy="337.6" r="6.05"/><circle cx="1402.6" cy="337.6" r="6.05"/><circle cx="1406.6" cy="337.6" r="6.05"/><circle cx="1410.6" cy="337.6" r="6.05"/><circle cx="1400.6" cy="341.1" r="6.05"/><circle cx="1404.6" cy="341.1" r="6.05"/><circle cx="1398.6" cy="344.5" r="6.05"/><circle cx="1402.6" cy="344.5" r="6.05"/><circle cx="1406.6" cy="344.5" r="6.05"/><circle cx="1410.6" cy="344.5" r="6.05"/><circle cx="1309.5" cy="390.0" r="6.05"/><circle cx="1313.5" cy="390.0" r="6.05"/><circle cx="1321.5" cy="390.0" r="6.05"/><circle cx="1325.5" cy="390.0" r="6.05"/><circle cx="1333.5" cy="390.0" r="6.05"/><circle cx="1311.5" cy="393.5" r="6.05"/><circle cx="1315.5" cy="393.5" r="6.05"/><circle cx="1323.5" cy="393.5" r="6.05"/><circle cx="1327.5" cy="393.5" r="6.05"/><circle cx="1331.5" cy="393.5" r="6.05"/><circle cx="1313.5" cy="396.9" r="6.05"/><circle cx="1317.5" cy="396.9" r="6.05"/><circle cx="1321.5" cy="396.9" r="6.05"/><circle cx="1329.5" cy="396.9" r="6.05"/><circle cx="1333.5" cy="396.9" r="6.05"/><circle cx="1311.5" cy="400.4" r="6.05"/><circle cx="1315.5" cy="400.4" r="6.05"/><circle cx="1319.5" cy="400.4" r="6.05"/><circle cx="1323.5" cy="400.4" r="6.05"/><circle cx="1327.5" cy="400.4" r="6.05"/><circle cx="1331.5" cy="400.4" r="6.05"/><circle cx="1335.5" cy="400.4" r="6.05"/><circle cx="1313.5" cy="403.9" r="6.05"/><circle cx="1317.5" cy="403.9" r="6.05"/><circle cx="1321.5" cy="403.9" r="6.05"/><circle cx="1325.5" cy="403.9" r="6.05"/><circle cx="1329.5" cy="403.9" r="6.05"/><circle cx="1333.5" cy="403.9" r="6.05"/><circle cx="1315.5" cy="407.3" r="6.05"/><circle cx="1319.5" cy="407.3" r="6.05"/><circle cx="1323.5" cy="407.3" r="6.05"/><circle cx="1327.5" cy="407.3" r="6.05"/><circle cx="1325.5" cy="410.8" r="6.05"/><circle cx="1329.5" cy="410.8" r="6.05"/><circle cx="1322.0" cy="414.0" r="6.05"/><circle cx="1314.0" cy="410.0" r="6.05"/><circle cx="1382.0" cy="409.5" r="6.05"/><circle cx="1390.0" cy="409.5" r="6.05"/><circle cx="1384.0" cy="412.9" r="6.05"/><circle cx="1388.0" cy="412.9" r="6.05"/><circle cx="1392.0" cy="412.9" r="6.05"/><circle cx="1396.0" cy="412.9" r="6.05"/><circle cx="1382.0" cy="416.4" r="6.05"/><circle cx="1386.0" cy="416.4" r="6.05"/><circle cx="1390.0" cy="416.4" r="6.05"/><circle cx="1384.0" cy="419.9" r="6.05"/><circle cx="1388.0" cy="419.9" r="6.05"/><circle cx="1392.0" cy="419.9" r="6.05"/><circle cx="1396.0" cy="419.9" r="6.05"/><circle cx="1390.0" cy="423.3" r="6.05"/><circle cx="1394.0" cy="423.3" r="6.05"/><circle cx="1398.0" cy="423.3" r="6.05"/><circle cx="1400.0" cy="416.0" r="6.05"/><circle cx="1405.0" cy="389.5" r="6.05"/><circle cx="1409.0" cy="389.5" r="6.05"/><circle cx="1399.0" cy="392.9" r="6.05"/><circle cx="1403.0" cy="392.9" r="6.05"/><circle cx="1407.0" cy="392.9" r="6.05"/><circle cx="1408.0" cy="396.0" r="6.05"/></g></g>
<rect x="903.4" y="150.1" width="625.6" height="287.9" fill="none" stroke="#1a1a1a" stroke-width="1.8"/>
<line x1="894.2" y1="381.5" x2="903.4" y2="381.5" stroke="#333333" stroke-width="2"/>
<text transform="translate(886.5,392.5) scale(1,1.035)" font-size="29.3" fill="#424242" stroke="#424242" stroke-width="0.3" text-anchor="end">5</text>
<line x1="894.2" y1="316.9" x2="903.4" y2="316.9" stroke="#333333" stroke-width="2"/>
<text transform="translate(886.5,327.9) scale(1,1.035)" font-size="29.3" fill="#424242" stroke="#424242" stroke-width="0.3" text-anchor="end">10</text>
<line x1="894.2" y1="252.3" x2="903.4" y2="252.3" stroke="#333333" stroke-width="2"/>
<text transform="translate(886.5,263.3) scale(1,1.035)" font-size="29.3" fill="#424242" stroke="#424242" stroke-width="0.3" text-anchor="end">15</text>
<line x1="894.2" y1="187.7" x2="903.4" y2="187.7" stroke="#333333" stroke-width="2"/>
<text transform="translate(886.5,198.7) scale(1,1.035)" font-size="29.3" fill="#424242" stroke="#424242" stroke-width="0.3" text-anchor="end">20</text>
<line x1="1074.0" y1="438.0" x2="1074.0" y2="447.2" stroke="#333333" stroke-width="2"/>
<text transform="translate(1074.0,477.0) scale(1,1.02)" font-size="29.3" fill="#424242" stroke="#424242" stroke-width="0.3" text-anchor="middle">Hard</text>
<line x1="1358.4" y1="438.0" x2="1358.4" y2="447.2" stroke="#333333" stroke-width="2"/>
<text transform="translate(1358.4,477.0) scale(1,1.02)" font-size="29.3" fill="#424242" stroke="#424242" stroke-width="0.3" text-anchor="middle">Soft</text>
<text transform="translate(1216.2,520.6)" font-size="36.8" fill="#000" stroke="#000" stroke-width="0.3" text-anchor="middle">Dominant substrate texture</text>
<g clip-path="url(#ctop)"><text transform="translate(813.1,294.1) rotate(-90)" font-size="36.8" fill="#000" stroke="#000" stroke-width="0.3" text-anchor="middle">Number of taxa per photo</text></g>
<text transform="translate(850.8,119.1) scale(1,1.03)" font-size="33.5" fill="#000" font-weight="bold">B</text>
<g clip-path="url(#pcC)"><line x1="122.6" y1="837.0" x2="748.2" y2="837.0" stroke="#EBEBEB" stroke-width="1.3"/><line x1="122.6" y1="753.6" x2="748.2" y2="753.6" stroke="#EBEBEB" stroke-width="1.3"/><line x1="122.6" y1="670.2" x2="748.2" y2="670.2" stroke="#EBEBEB" stroke-width="1.3"/><line x1="122.6" y1="878.7" x2="748.2" y2="878.7" stroke="#EBEBEB" stroke-width="2.5"/><line x1="122.6" y1="795.3" x2="748.2" y2="795.3" stroke="#EBEBEB" stroke-width="2.5"/><line x1="122.6" y1="711.9" x2="748.2" y2="711.9" stroke="#EBEBEB" stroke-width="2.5"/><line x1="122.6" y1="628.5" x2="748.2" y2="628.5" stroke="#EBEBEB" stroke-width="2.5"/><line x1="293.2" y1="625.7" x2="293.2" y2="914.3" stroke="#EBEBEB" stroke-width="2.5"/><line x1="577.6" y1="625.7" x2="577.6" y2="914.3" stroke="#EBEBEB" stroke-width="2.5"/><line x1="293.2" y1="638.2" x2="293.2" y2="694.5" stroke="#1c1c1c" stroke-width="2.5"/><line x1="293.2" y1="762.3" x2="293.2" y2="814.2" stroke="#1c1c1c" stroke-width="2.5"/><rect x="186.5" y="694.5" width="213.4" height="67.8" fill="#F8766D" stroke="#2d2d2d" stroke-width="2.5" stroke-linejoin="round"/><line x1="186.5" y1="721.1" x2="399.9" y2="721.1" stroke="#333333" stroke-width="5.2"/><line x1="577.6" y1="713.7" x2="577.6" y2="773.6" stroke="#1c1c1c" stroke-width="2.5"/><line x1="577.6" y1="836.1" x2="577.6" y2="901.0" stroke="#1c1c1c" stroke-width="2.5"/><rect x="470.9" y="773.6" width="213.4" height="62.5" fill="#00BFC4" stroke="#2d2d2d" stroke-width="2.5" stroke-linejoin="round"/><line x1="470.9" y1="806.5" x2="684.3" y2="806.5" stroke="#333333" stroke-width="5.2"/><g fill="#000"><circle cx="336.3" cy="637.5" r="6.05"/><circle cx="307.0" cy="645.0" r="6.05"/><circle cx="245.9" cy="653.8" r="6.05"/><circle cx="249.3" cy="665.6" r="6.05"/><circle cx="238.6" cy="668.0" r="6.05"/><circle cx="236.1" cy="677.3" r="6.05"/><circle cx="267.4" cy="667.5" r="6.05"/><circle cx="316.3" cy="664.6" r="6.05"/><circle cx="316.7" cy="670.9" r="6.05"/><circle cx="303.1" cy="670.9" r="6.05"/><circle cx="345.6" cy="669.5" r="6.05"/><circle cx="341.2" cy="681.7" r="6.05"/><circle cx="314.3" cy="681.7" r="6.05"/><circle cx="326.5" cy="680.7" r="6.05"/><circle cx="317.7" cy="688.5" r="6.05"/><circle cx="329.4" cy="688.5" r="6.05"/><circle cx="337.3" cy="693.4" r="6.05"/><circle cx="331.4" cy="699.3" r="6.05"/><circle cx="350.0" cy="699.3" r="6.05"/><circle cx="245.9" cy="687.5" r="6.05"/><circle cx="258.6" cy="687.5" r="6.05"/><circle cx="242.5" cy="695.4" r="6.05"/><circle cx="279.6" cy="687.5" r="6.05"/><circle cx="287.4" cy="689.5" r="6.05"/><circle cx="300.1" cy="692.4" r="6.05"/><circle cx="282.5" cy="698.3" r="6.05"/><circle cx="266.9" cy="699.3" r="6.05"/><circle cx="256.2" cy="699.3" r="6.05"/><circle cx="235.6" cy="703.2" r="6.05"/><circle cx="308.0" cy="700.2" r="6.05"/><circle cx="241.5" cy="700.9" r="6.05"/><circle cx="248.3" cy="698.9" r="6.05"/><circle cx="240.5" cy="717.5" r="6.05"/><circle cx="243.5" cy="710.6" r="6.05"/><circle cx="258.1" cy="717.5" r="6.05"/><circle cx="251.3" cy="711.6" r="6.05"/><circle cx="260.1" cy="699.9" r="6.05"/><circle cx="270.8" cy="705.7" r="6.05"/><circle cx="265.9" cy="714.5" r="6.05"/><circle cx="269.4" cy="724.3" r="6.05"/><circle cx="290.4" cy="697.0" r="6.05"/><circle cx="304.0" cy="699.9" r="6.05"/><circle cx="311.9" cy="708.7" r="6.05"/><circle cx="316.3" cy="713.6" r="6.05"/><circle cx="337.3" cy="697.0" r="6.05"/><circle cx="290.4" cy="722.4" r="6.05"/><circle cx="299.2" cy="724.8" r="6.05"/><circle cx="336.3" cy="719.4" r="6.05"/><circle cx="345.1" cy="723.3" r="6.05"/><circle cx="324.6" cy="726.3" r="6.05"/><circle cx="340.2" cy="734.1" r="6.05"/><circle cx="329.4" cy="737.0" r="6.05"/><circle cx="318.7" cy="738.0" r="6.05"/><circle cx="237.1" cy="732.6" r="6.05"/><circle cx="258.6" cy="732.1" r="6.05"/><circle cx="265.0" cy="740.9" r="6.05"/><circle cx="281.6" cy="733.1" r="6.05"/><circle cx="284.5" cy="739.0" r="6.05"/><circle cx="277.7" cy="748.3" r="6.05"/><circle cx="290.4" cy="747.8" r="6.05"/><circle cx="301.1" cy="746.8" r="6.05"/><circle cx="243.5" cy="743.9" r="6.05"/><circle cx="249.3" cy="743.9" r="6.05"/><circle cx="241.5" cy="749.7" r="6.05"/><circle cx="237.1" cy="756.6" r="6.05"/><circle cx="243.5" cy="758.5" r="6.05"/><circle cx="349.5" cy="756.6" r="6.05"/><circle cx="294.3" cy="755.6" r="6.05"/><circle cx="303.1" cy="757.5" r="6.05"/><circle cx="314.8" cy="758.5" r="6.05"/><circle cx="321.6" cy="762.4" r="6.05"/><circle cx="269.8" cy="763.4" r="6.05"/><circle cx="289.4" cy="765.4" r="6.05"/><circle cx="243.5" cy="770.2" r="6.05"/><circle cx="276.7" cy="773.2" r="6.05"/><circle cx="308.0" cy="770.2" r="6.05"/><circle cx="321.6" cy="769.3" r="6.05"/><circle cx="338.2" cy="768.3" r="6.05"/><circle cx="347.0" cy="773.2" r="6.05"/><circle cx="243.5" cy="775.6" r="6.05"/><circle cx="252.7" cy="783.5" r="6.05"/><circle cx="253.7" cy="789.3" r="6.05"/><circle cx="262.0" cy="791.3" r="6.05"/><circle cx="267.9" cy="794.2" r="6.05"/><circle cx="280.6" cy="786.4" r="6.05"/><circle cx="292.3" cy="773.7" r="6.05"/><circle cx="297.2" cy="782.5" r="6.05"/><circle cx="301.1" cy="789.3" r="6.05"/><circle cx="312.8" cy="785.4" r="6.05"/><circle cx="322.6" cy="773.7" r="6.05"/><circle cx="328.5" cy="779.5" r="6.05"/><circle cx="328.5" cy="785.4" r="6.05"/><circle cx="331.9" cy="795.2" r="6.05"/><circle cx="337.3" cy="776.6" r="6.05"/><circle cx="346.1" cy="775.6" r="6.05"/><circle cx="262.0" cy="809.8" r="6.05"/><circle cx="242.5" cy="814.2" r="6.05"/><circle cx="349.0" cy="760.0" r="6.05"/><circle cx="245.0" cy="700.9" r="6.05"/><circle cx="237.0" cy="710.9" r="6.05"/><circle cx="265.0" cy="704.9" r="6.05"/><circle cx="261.0" cy="716.9" r="6.05"/><circle cx="272.9" cy="708.9" r="6.05"/><circle cx="316.9" cy="684.9" r="6.05"/><circle cx="324.9" cy="690.9" r="6.05"/><circle cx="332.8" cy="688.9" r="6.05"/><circle cx="320.9" cy="696.9" r="6.05"/><circle cx="318.9" cy="712.9" r="6.05"/><circle cx="288.9" cy="760.8" r="6.05"/><circle cx="294.9" cy="764.8" r="6.05"/><circle cx="288.9" cy="772.8" r="6.05"/><circle cx="310.9" cy="764.8" r="6.05"/><circle cx="318.9" cy="768.8" r="6.05"/><circle cx="324.9" cy="774.8" r="6.05"/><circle cx="241.0" cy="752.8" r="6.05"/><circle cx="336.8" cy="728.9" r="6.05"/><circle cx="344.8" cy="736.8" r="6.05"/><circle cx="328.9" cy="732.8" r="6.05"/><circle cx="617.2" cy="713.2" r="6.05"/><circle cx="624.0" cy="726.4" r="6.05"/><circle cx="626.9" cy="741.0" r="6.05"/><circle cx="630.8" cy="745.9" r="6.05"/><circle cx="626.9" cy="746.9" r="6.05"/><circle cx="606.4" cy="733.2" r="6.05"/><circle cx="609.3" cy="741.0" r="6.05"/><circle cx="590.3" cy="737.1" r="6.05"/><circle cx="586.9" cy="745.9" r="6.05"/><circle cx="575.6" cy="735.7" r="6.05"/><circle cx="564.4" cy="741.5" r="6.05"/><circle cx="549.7" cy="738.1" r="6.05"/><circle cx="553.6" cy="749.8" r="6.05"/><circle cx="535.1" cy="744.0" r="6.05"/><circle cx="530.2" cy="746.9" r="6.05"/><circle cx="540.9" cy="752.8" r="6.05"/><circle cx="521.4" cy="752.8" r="6.05"/><circle cx="520.9" cy="765.5" r="6.05"/><circle cx="527.2" cy="772.3" r="6.05"/><circle cx="543.9" cy="766.5" r="6.05"/><circle cx="549.7" cy="760.6" r="6.05"/><circle cx="561.5" cy="760.6" r="6.05"/><circle cx="571.2" cy="760.6" r="6.05"/><circle cx="583.0" cy="760.6" r="6.05"/><circle cx="592.7" cy="754.7" r="6.05"/><circle cx="604.5" cy="749.8" r="6.05"/><circle cx="597.6" cy="758.6" r="6.05"/><circle cx="610.3" cy="758.6" r="6.05"/><circle cx="621.1" cy="762.5" r="6.05"/><circle cx="632.8" cy="764.5" r="6.05"/><circle cx="631.8" cy="770.4" r="6.05"/><circle cx="622.0" cy="772.3" r="6.05"/><circle cx="607.4" cy="768.4" r="6.05"/><circle cx="592.7" cy="768.4" r="6.05"/><circle cx="579.0" cy="768.4" r="6.05"/><circle cx="567.3" cy="768.4" r="6.05"/><circle cx="555.6" cy="768.4" r="6.05"/><circle cx="545.8" cy="774.3" r="6.05"/><circle cx="573.2" cy="775.2" r="6.05"/><circle cx="584.9" cy="776.2" r="6.05"/><circle cx="602.5" cy="776.2" r="6.05"/><circle cx="523.3" cy="774.9" r="6.05"/><circle cx="523.3" cy="785.6" r="6.05"/><circle cx="522.4" cy="798.3" r="6.05"/><circle cx="523.3" cy="809.1" r="6.05"/><circle cx="524.3" cy="820.8" r="6.05"/><circle cx="528.2" cy="828.6" r="6.05"/><circle cx="521.4" cy="837.4" r="6.05"/><circle cx="534.1" cy="844.3" r="6.05"/><circle cx="551.7" cy="798.3" r="6.05"/><circle cx="553.6" cy="824.7" r="6.05"/><circle cx="561.5" cy="826.7" r="6.05"/><circle cx="553.6" cy="836.5" r="6.05"/><circle cx="565.4" cy="833.5" r="6.05"/><circle cx="547.8" cy="846.2" r="6.05"/><circle cx="559.5" cy="846.2" r="6.05"/><circle cx="573.2" cy="777.8" r="6.05"/><circle cx="580.0" cy="786.6" r="6.05"/><circle cx="572.2" cy="796.4" r="6.05"/><circle cx="581.0" cy="802.2" r="6.05"/><circle cx="585.9" cy="811.0" r="6.05"/><circle cx="592.7" cy="819.8" r="6.05"/><circle cx="597.6" cy="828.6" r="6.05"/><circle cx="573.2" cy="833.5" r="6.05"/><circle cx="588.8" cy="838.4" r="6.05"/><circle cx="581.0" cy="847.2" r="6.05"/><circle cx="587.8" cy="780.7" r="6.05"/><circle cx="598.6" cy="779.8" r="6.05"/><circle cx="602.5" cy="786.6" r="6.05"/><circle cx="602.5" cy="807.1" r="6.05"/><circle cx="594.7" cy="805.2" r="6.05"/><circle cx="622.0" cy="805.2" r="6.05"/><circle cx="631.8" cy="812.0" r="6.05"/><circle cx="633.8" cy="820.8" r="6.05"/><circle cx="622.0" cy="815.9" r="6.05"/><circle cx="610.3" cy="818.9" r="6.05"/><circle cx="626.0" cy="824.7" r="6.05"/><circle cx="622.0" cy="833.5" r="6.05"/><circle cx="628.9" cy="840.4" r="6.05"/><circle cx="609.3" cy="840.4" r="6.05"/><circle cx="617.2" cy="847.2" r="6.05"/><circle cx="629.9" cy="847.2" r="6.05"/><circle cx="588.8" cy="901.0" r="6.05"/><circle cx="534.1" cy="849.2" r="6.05"/><circle cx="526.3" cy="867.2" r="6.05"/><circle cx="537.5" cy="865.3" r="6.05"/><circle cx="543.4" cy="875.6" r="6.05"/><circle cx="546.8" cy="850.6" r="6.05"/><circle cx="549.2" cy="858.5" r="6.05"/><circle cx="540.0" cy="837.9" r="6.05"/><circle cx="563.4" cy="855.5" r="6.05"/><circle cx="555.6" cy="866.3" r="6.05"/><circle cx="557.5" cy="875.1" r="6.05"/><circle cx="550.7" cy="868.2" r="6.05"/><circle cx="569.3" cy="877.0" r="6.05"/><circle cx="569.3" cy="864.3" r="6.05"/><circle cx="567.3" cy="838.9" r="6.05"/><circle cx="579.0" cy="838.9" r="6.05"/><circle cx="585.9" cy="851.6" r="6.05"/><circle cx="590.8" cy="856.5" r="6.05"/><circle cx="580.0" cy="860.4" r="6.05"/><circle cx="588.8" cy="864.3" r="6.05"/><circle cx="583.0" cy="871.2" r="6.05"/><circle cx="607.4" cy="843.8" r="6.05"/><circle cx="617.2" cy="838.9" r="6.05"/><circle cx="628.9" cy="849.7" r="6.05"/><circle cx="620.1" cy="850.6" r="6.05"/><circle cx="608.4" cy="856.5" r="6.05"/><circle cx="632.8" cy="863.3" r="6.05"/><circle cx="617.2" cy="866.3" r="6.05"/><circle cx="609.3" cy="872.1" r="6.05"/><circle cx="620.1" cy="873.1" r="6.05"/><circle cx="602.0" cy="758.9" r="6.05"/><circle cx="606.0" cy="758.9" r="6.05"/><circle cx="614.0" cy="758.9" r="6.05"/><circle cx="524.0" cy="762.4" r="6.05"/><circle cx="540.0" cy="762.4" r="6.05"/><circle cx="544.0" cy="762.4" r="6.05"/><circle cx="552.0" cy="762.4" r="6.05"/><circle cx="556.0" cy="762.4" r="6.05"/><circle cx="564.0" cy="762.4" r="6.05"/><circle cx="568.0" cy="762.4" r="6.05"/><circle cx="576.0" cy="762.4" r="6.05"/><circle cx="580.0" cy="762.4" r="6.05"/><circle cx="588.0" cy="762.4" r="6.05"/><circle cx="592.0" cy="762.4" r="6.05"/><circle cx="596.0" cy="762.4" r="6.05"/><circle cx="600.0" cy="762.4" r="6.05"/><circle cx="604.0" cy="762.4" r="6.05"/><circle cx="608.0" cy="762.4" r="6.05"/><circle cx="612.0" cy="762.4" r="6.05"/><circle cx="616.0" cy="762.4" r="6.05"/><circle cx="526.0" cy="765.9" r="6.05"/><circle cx="550.0" cy="765.9" r="6.05"/><circle cx="554.0" cy="765.9" r="6.05"/><circle cx="558.0" cy="765.9" r="6.05"/><circle cx="562.0" cy="765.9" r="6.05"/><circle cx="566.0" cy="765.9" r="6.05"/><circle cx="570.0" cy="765.9" r="6.05"/><circle cx="574.0" cy="765.9" r="6.05"/><circle cx="578.0" cy="765.9" r="6.05"/><circle cx="582.0" cy="765.9" r="6.05"/><circle cx="586.0" cy="765.9" r="6.05"/><circle cx="590.0" cy="765.9" r="6.05"/><circle cx="594.0" cy="765.9" r="6.05"/><circle cx="598.0" cy="765.9" r="6.05"/><circle cx="602.0" cy="765.9" r="6.05"/><circle cx="606.0" cy="765.9" r="6.05"/><circle cx="610.0" cy="765.9" r="6.05"/><circle cx="614.0" cy="765.9" r="6.05"/><circle cx="618.0" cy="765.9" r="6.05"/><circle cx="622.0" cy="765.9" r="6.05"/><circle cx="524.0" cy="769.3" r="6.05"/><circle cx="540.0" cy="769.3" r="6.05"/><circle cx="544.0" cy="769.3" r="6.05"/><circle cx="548.0" cy="769.3" r="6.05"/><circle cx="552.0" cy="769.3" r="6.05"/><circle cx="572.0" cy="769.3" r="6.05"/><circle cx="576.0" cy="769.3" r="6.05"/><circle cx="584.0" cy="769.3" r="6.05"/><circle cx="588.0" cy="769.3" r="6.05"/><circle cx="596.0" cy="769.3" r="6.05"/><circle cx="600.0" cy="769.3" r="6.05"/><circle cx="604.0" cy="769.3" r="6.05"/><circle cx="612.0" cy="769.3" r="6.05"/><circle cx="616.0" cy="769.3" r="6.05"/><circle cx="620.0" cy="769.3" r="6.05"/><circle cx="624.0" cy="769.3" r="6.05"/><circle cx="628.0" cy="769.3" r="6.05"/><circle cx="542.0" cy="772.8" r="6.05"/><circle cx="550.0" cy="772.8" r="6.05"/><circle cx="570.0" cy="772.8" r="6.05"/><circle cx="574.0" cy="772.8" r="6.05"/><circle cx="578.0" cy="772.8" r="6.05"/><circle cx="582.0" cy="772.8" r="6.05"/><circle cx="586.0" cy="772.8" r="6.05"/><circle cx="590.0" cy="772.8" r="6.05"/><circle cx="594.0" cy="772.8" r="6.05"/><circle cx="598.0" cy="772.8" r="6.05"/><circle cx="602.0" cy="772.8" r="6.05"/><circle cx="606.0" cy="772.8" r="6.05"/><circle cx="610.0" cy="772.8" r="6.05"/><circle cx="614.0" cy="772.8" r="6.05"/><circle cx="626.0" cy="772.8" r="6.05"/><circle cx="544.0" cy="776.2" r="6.05"/><circle cx="548.0" cy="776.2" r="6.05"/><circle cx="576.0" cy="776.2" r="6.05"/><circle cx="580.0" cy="776.2" r="6.05"/><circle cx="588.0" cy="776.2" r="6.05"/><circle cx="592.0" cy="776.2" r="6.05"/><circle cx="596.0" cy="776.2" r="6.05"/><circle cx="608.0" cy="776.2" r="6.05"/><circle cx="526.0" cy="779.7" r="6.05"/><circle cx="542.0" cy="779.7" r="6.05"/><circle cx="546.0" cy="779.7" r="6.05"/><circle cx="578.0" cy="779.7" r="6.05"/><circle cx="582.0" cy="779.7" r="6.05"/><circle cx="594.0" cy="779.7" r="6.05"/><circle cx="602.0" cy="779.7" r="6.05"/><circle cx="606.0" cy="779.7" r="6.05"/><circle cx="528.0" cy="783.2" r="6.05"/><circle cx="540.0" cy="783.2" r="6.05"/><circle cx="544.0" cy="783.2" r="6.05"/><circle cx="576.0" cy="783.2" r="6.05"/><circle cx="580.0" cy="783.2" r="6.05"/><circle cx="584.0" cy="783.2" r="6.05"/><circle cx="588.0" cy="783.2" r="6.05"/><circle cx="592.0" cy="783.2" r="6.05"/><circle cx="596.0" cy="783.2" r="6.05"/><circle cx="600.0" cy="783.2" r="6.05"/><circle cx="604.0" cy="783.2" r="6.05"/><circle cx="608.0" cy="783.2" r="6.05"/><circle cx="542.0" cy="786.6" r="6.05"/><circle cx="546.0" cy="786.6" r="6.05"/><circle cx="574.0" cy="786.6" r="6.05"/><circle cx="586.0" cy="786.6" r="6.05"/><circle cx="606.0" cy="786.6" r="6.05"/><circle cx="610.0" cy="786.6" r="6.05"/><circle cx="544.0" cy="790.1" r="6.05"/><circle cx="548.0" cy="790.1" r="6.05"/><circle cx="552.0" cy="790.1" r="6.05"/><circle cx="560.0" cy="790.1" r="6.05"/><circle cx="572.0" cy="790.1" r="6.05"/><circle cx="576.0" cy="790.1" r="6.05"/><circle cx="580.0" cy="790.1" r="6.05"/><circle cx="584.0" cy="790.1" r="6.05"/><circle cx="604.0" cy="790.1" r="6.05"/><circle cx="546.0" cy="793.6" r="6.05"/><circle cx="550.0" cy="793.6" r="6.05"/><circle cx="554.0" cy="793.6" r="6.05"/><circle cx="558.0" cy="793.6" r="6.05"/><circle cx="562.0" cy="793.6" r="6.05"/><circle cx="566.0" cy="793.6" r="6.05"/><circle cx="570.0" cy="793.6" r="6.05"/><circle cx="574.0" cy="793.6" r="6.05"/><circle cx="578.0" cy="793.6" r="6.05"/><circle cx="582.0" cy="793.6" r="6.05"/><circle cx="606.0" cy="793.6" r="6.05"/><circle cx="556.0" cy="797.0" r="6.05"/><circle cx="576.0" cy="797.0" r="6.05"/><circle cx="580.0" cy="797.0" r="6.05"/><circle cx="584.0" cy="797.0" r="6.05"/><circle cx="604.0" cy="797.0" r="6.05"/><circle cx="526.0" cy="800.5" r="6.05"/><circle cx="550.0" cy="800.5" r="6.05"/><circle cx="554.0" cy="800.5" r="6.05"/><circle cx="574.0" cy="800.5" r="6.05"/><circle cx="578.0" cy="800.5" r="6.05"/><circle cx="606.0" cy="800.5" r="6.05"/><circle cx="524.0" cy="804.0" r="6.05"/><circle cx="528.0" cy="804.0" r="6.05"/><circle cx="532.0" cy="804.0" r="6.05"/><circle cx="548.0" cy="804.0" r="6.05"/><circle cx="552.0" cy="804.0" r="6.05"/><circle cx="576.0" cy="804.0" r="6.05"/><circle cx="584.0" cy="804.0" r="6.05"/><circle cx="588.0" cy="804.0" r="6.05"/><circle cx="600.0" cy="804.0" r="6.05"/><circle cx="604.0" cy="804.0" r="6.05"/><circle cx="608.0" cy="804.0" r="6.05"/><circle cx="612.0" cy="804.0" r="6.05"/><circle cx="526.0" cy="807.4" r="6.05"/><circle cx="530.0" cy="807.4" r="6.05"/><circle cx="534.0" cy="807.4" r="6.05"/><circle cx="546.0" cy="807.4" r="6.05"/><circle cx="550.0" cy="807.4" r="6.05"/><circle cx="554.0" cy="807.4" r="6.05"/><circle cx="582.0" cy="807.4" r="6.05"/><circle cx="586.0" cy="807.4" r="6.05"/><circle cx="590.0" cy="807.4" r="6.05"/><circle cx="598.0" cy="807.4" r="6.05"/><circle cx="606.0" cy="807.4" r="6.05"/><circle cx="610.0" cy="807.4" r="6.05"/><circle cx="614.0" cy="807.4" r="6.05"/><circle cx="618.0" cy="807.4" r="6.05"/><circle cx="528.0" cy="810.9" r="6.05"/><circle cx="532.0" cy="810.9" r="6.05"/><circle cx="536.0" cy="810.9" r="6.05"/><circle cx="540.0" cy="810.9" r="6.05"/><circle cx="544.0" cy="810.9" r="6.05"/><circle cx="548.0" cy="810.9" r="6.05"/><circle cx="552.0" cy="810.9" r="6.05"/><circle cx="580.0" cy="810.9" r="6.05"/><circle cx="592.0" cy="810.9" r="6.05"/><circle cx="596.0" cy="810.9" r="6.05"/><circle cx="600.0" cy="810.9" r="6.05"/><circle cx="604.0" cy="810.9" r="6.05"/><circle cx="608.0" cy="810.9" r="6.05"/><circle cx="612.0" cy="810.9" r="6.05"/><circle cx="616.0" cy="810.9" r="6.05"/><circle cx="620.0" cy="810.9" r="6.05"/><circle cx="624.0" cy="810.9" r="6.05"/><circle cx="526.0" cy="814.4" r="6.05"/><circle cx="530.0" cy="814.4" r="6.05"/><circle cx="534.0" cy="814.4" r="6.05"/><circle cx="550.0" cy="814.4" r="6.05"/><circle cx="554.0" cy="814.4" r="6.05"/><circle cx="582.0" cy="814.4" r="6.05"/><circle cx="586.0" cy="814.4" r="6.05"/><circle cx="590.0" cy="814.4" r="6.05"/><circle cx="594.0" cy="814.4" r="6.05"/><circle cx="598.0" cy="814.4" r="6.05"/><circle cx="602.0" cy="814.4" r="6.05"/><circle cx="606.0" cy="814.4" r="6.05"/><circle cx="610.0" cy="814.4" r="6.05"/><circle cx="614.0" cy="814.4" r="6.05"/><circle cx="618.0" cy="814.4" r="6.05"/><circle cx="626.0" cy="814.4" r="6.05"/><circle cx="524.0" cy="817.8" r="6.05"/><circle cx="528.0" cy="817.8" r="6.05"/><circle cx="532.0" cy="817.8" r="6.05"/><circle cx="552.0" cy="817.8" r="6.05"/><circle cx="556.0" cy="817.8" r="6.05"/><circle cx="576.0" cy="817.8" r="6.05"/><circle cx="580.0" cy="817.8" r="6.05"/><circle cx="584.0" cy="817.8" r="6.05"/><circle cx="588.0" cy="817.8" r="6.05"/><circle cx="596.0" cy="817.8" r="6.05"/><circle cx="600.0" cy="817.8" r="6.05"/><circle cx="604.0" cy="817.8" r="6.05"/><circle cx="608.0" cy="817.8" r="6.05"/><circle cx="616.0" cy="817.8" r="6.05"/><circle cx="620.0" cy="817.8" r="6.05"/><circle cx="624.0" cy="817.8" r="6.05"/><circle cx="628.0" cy="817.8" r="6.05"/><circle cx="530.0" cy="821.3" r="6.05"/><circle cx="554.0" cy="821.3" r="6.05"/><circle cx="558.0" cy="821.3" r="6.05"/><circle cx="590.0" cy="821.3" r="6.05"/><circle cx="598.0" cy="821.3" r="6.05"/><circle cx="602.0" cy="821.3" r="6.05"/><circle cx="606.0" cy="821.3" r="6.05"/><circle cx="618.0" cy="821.3" r="6.05"/><circle cx="622.0" cy="821.3" r="6.05"/><circle cx="626.0" cy="821.3" r="6.05"/><circle cx="630.0" cy="821.3" r="6.05"/><circle cx="524.0" cy="824.7" r="6.05"/><circle cx="528.0" cy="824.7" r="6.05"/><circle cx="532.0" cy="824.7" r="6.05"/><circle cx="592.0" cy="824.7" r="6.05"/><circle cx="596.0" cy="824.7" r="6.05"/><circle cx="600.0" cy="824.7" r="6.05"/><circle cx="604.0" cy="824.7" r="6.05"/><circle cx="550.0" cy="828.2" r="6.05"/><circle cx="554.0" cy="828.2" r="6.05"/><circle cx="558.0" cy="828.2" r="6.05"/><circle cx="566.0" cy="828.2" r="6.05"/><circle cx="570.0" cy="828.2" r="6.05"/><circle cx="574.0" cy="828.2" r="6.05"/><circle cx="594.0" cy="828.2" r="6.05"/><circle cx="602.0" cy="828.2" r="6.05"/><circle cx="622.0" cy="828.2" r="6.05"/><circle cx="626.0" cy="828.2" r="6.05"/><circle cx="524.0" cy="831.7" r="6.05"/><circle cx="528.0" cy="831.7" r="6.05"/><circle cx="532.0" cy="831.7" r="6.05"/><circle cx="552.0" cy="831.7" r="6.05"/><circle cx="556.0" cy="831.7" r="6.05"/><circle cx="560.0" cy="831.7" r="6.05"/><circle cx="568.0" cy="831.7" r="6.05"/><circle cx="592.0" cy="831.7" r="6.05"/><circle cx="596.0" cy="831.7" r="6.05"/><circle cx="600.0" cy="831.7" r="6.05"/><circle cx="624.0" cy="831.7" r="6.05"/><circle cx="546.0" cy="835.1" r="6.05"/><circle cx="550.0" cy="835.1" r="6.05"/><circle cx="558.0" cy="835.1" r="6.05"/><circle cx="562.0" cy="835.1" r="6.05"/><circle cx="570.0" cy="835.1" r="6.05"/><circle cx="578.0" cy="835.1" r="6.05"/><circle cx="586.0" cy="835.1" r="6.05"/><circle cx="590.0" cy="835.1" r="6.05"/><circle cx="594.0" cy="835.1" r="6.05"/><circle cx="598.0" cy="835.1" r="6.05"/><circle cx="602.0" cy="835.1" r="6.05"/><circle cx="626.0" cy="835.1" r="6.05"/><circle cx="523.0" cy="760.0" r="6.05"/><circle cx="531.0" cy="758.0" r="6.05"/><circle cx="541.0" cy="760.0" r="6.05"/><circle cx="558.0" cy="760.0" r="6.05"/><circle cx="566.0" cy="760.0" r="6.05"/><circle cx="591.0" cy="760.0" r="6.05"/><circle cx="608.0" cy="756.0" r="6.05"/><circle cx="609.0" cy="752.0" r="6.05"/><circle cx="627.0" cy="776.0" r="6.05"/><circle cx="631.0" cy="817.0" r="6.05"/><circle cx="629.0" cy="827.0" r="6.05"/><circle cx="625.0" cy="838.0" r="6.05"/><circle cx="575.0" cy="837.0" r="6.05"/><circle cx="523.0" cy="834.0" r="6.05"/><circle cx="523.0" cy="780.0" r="6.05"/><circle cx="592.0" cy="850.0" r="6.05"/><circle cx="607.0" cy="835.0" r="6.05"/><circle cx="613.0" cy="840.0" r="6.05"/><circle cx="620.0" cy="838.0" r="6.05"/><circle cx="610.0" cy="848.0" r="6.05"/><circle cx="612.0" cy="864.0" r="6.05"/><circle cx="618.0" cy="870.0" r="6.05"/><circle cx="623.0" cy="862.0" r="6.05"/><circle cx="545.0" cy="846.0" r="6.05"/><circle cx="562.0" cy="870.0" r="6.05"/><circle cx="548.0" cy="872.0" r="6.05"/><circle cx="542.0" cy="864.0" r="6.05"/></g></g>
<rect x="122.6" y="625.7" width="625.6" height="288.6" fill="none" stroke="#1a1a1a" stroke-width="1.8"/>
<line x1="113.4" y1="878.7" x2="122.6" y2="878.7" stroke="#333333" stroke-width="2"/>
<text transform="translate(105.7,889.7) scale(1,1.035)" font-size="29.3" fill="#424242" stroke="#424242" stroke-width="0.3" text-anchor="end">0</text>
<line x1="113.4" y1="795.3" x2="122.6" y2="795.3" stroke="#333333" stroke-width="2"/>
<text transform="translate(105.7,806.3) scale(1,1.035)" font-size="29.3" fill="#424242" stroke="#424242" stroke-width="0.3" text-anchor="end">1</text>
<line x1="113.4" y1="711.9" x2="122.6" y2="711.9" stroke="#333333" stroke-width="2"/>
<text transform="translate(105.7,722.9) scale(1,1.035)" font-size="29.3" fill="#424242" stroke="#424242" stroke-width="0.3" text-anchor="end">2</text>
<line x1="113.4" y1="628.5" x2="122.6" y2="628.5" stroke="#333333" stroke-width="2"/>
<text transform="translate(105.7,639.5) scale(1,1.035)" font-size="29.3" fill="#424242" stroke="#424242" stroke-width="0.3" text-anchor="end">3</text>
<line x1="293.2" y1="914.3" x2="293.2" y2="923.5" stroke="#333333" stroke-width="2"/>
<text transform="translate(293.2,953.3) scale(1,1.02)" font-size="29.3" fill="#424242" stroke="#424242" stroke-width="0.3" text-anchor="middle">Hard</text>
<line x1="577.6" y1="914.3" x2="577.6" y2="923.5" stroke="#333333" stroke-width="2"/>
<text transform="translate(577.6,953.3) scale(1,1.02)" font-size="29.3" fill="#424242" stroke="#424242" stroke-width="0.3" text-anchor="middle">Soft</text>
<text transform="translate(435.4,996.9)" font-size="36.8" fill="#000" stroke="#000" stroke-width="0.3" text-anchor="middle">Dominant substrate texture</text>
<g clip-path="url(#cbot)"><text transform="translate(32.3,770.0) rotate(-90)" font-size="36.8" fill="#000" stroke="#000" stroke-width="0.3" text-anchor="middle">Shannon diversity</text></g>
<text transform="translate(56.5,603.9) scale(1,1.03)" font-size="33.5" fill="#000" font-weight="bold">C</text>
<g clip-path="url(#pcD)"><line x1="903.4" y1="884.4" x2="1529.0" y2="884.4" stroke="#EBEBEB" stroke-width="1.3"/><line x1="903.4" y1="807.8" x2="1529.0" y2="807.8" stroke="#EBEBEB" stroke-width="1.3"/><line x1="903.4" y1="731.2" x2="1529.0" y2="731.2" stroke="#EBEBEB" stroke-width="1.3"/><line x1="903.4" y1="654.6" x2="1529.0" y2="654.6" stroke="#EBEBEB" stroke-width="1.3"/><line x1="903.4" y1="846.1" x2="1529.0" y2="846.1" stroke="#EBEBEB" stroke-width="2.5"/><line x1="903.4" y1="769.5" x2="1529.0" y2="769.5" stroke="#EBEBEB" stroke-width="2.5"/><line x1="903.4" y1="692.9" x2="1529.0" y2="692.9" stroke="#EBEBEB" stroke-width="2.5"/><line x1="1074.0" y1="625.7" x2="1074.0" y2="914.3" stroke="#EBEBEB" stroke-width="2.5"/><line x1="1358.4" y1="625.7" x2="1358.4" y2="914.3" stroke="#EBEBEB" stroke-width="2.5"/><line x1="1074.0" y1="638.2" x2="1074.0" y2="664.8" stroke="#1c1c1c" stroke-width="2.5"/><line x1="1074.0" y1="732.8" x2="1074.0" y2="820.6" stroke="#1c1c1c" stroke-width="2.5"/><rect x="967.3" y="664.8" width="213.4" height="68.0" fill="#F8766D" stroke="#2d2d2d" stroke-width="2.5" stroke-linejoin="round"/><line x1="967.3" y1="692.7" x2="1180.7" y2="692.7" stroke="#333333" stroke-width="5.2"/><line x1="1358.4" y1="649.2" x2="1358.4" y2="685.5" stroke="#1c1c1c" stroke-width="2.5"/><line x1="1358.4" y1="754.8" x2="1358.4" y2="855.0" stroke="#1c1c1c" stroke-width="2.5"/><rect x="1251.7" y="685.5" width="213.4" height="69.3" fill="#00BFC4" stroke="#2d2d2d" stroke-width="2.5" stroke-linejoin="round"/><line x1="1251.7" y1="711.7" x2="1465.1" y2="711.7" stroke="#333333" stroke-width="5.2"/><g fill="#000"><circle cx="1032.7" cy="637.2" r="6.05"/><circle cx="1031.8" cy="648.0" r="6.05"/><circle cx="1025.9" cy="656.3" r="6.05"/><circle cx="1020.5" cy="668.0" r="6.05"/><circle cx="1027.4" cy="676.8" r="6.05"/><circle cx="1040.1" cy="669.0" r="6.05"/><circle cx="1039.1" cy="677.8" r="6.05"/><circle cx="1050.8" cy="654.3" r="6.05"/><circle cx="1057.7" cy="655.3" r="6.05"/><circle cx="1051.8" cy="661.2" r="6.05"/><circle cx="1077.2" cy="651.4" r="6.05"/><circle cx="1072.3" cy="656.3" r="6.05"/><circle cx="1079.2" cy="658.2" r="6.05"/><circle cx="1070.4" cy="666.0" r="6.05"/><circle cx="1076.2" cy="670.0" r="6.05"/><circle cx="1076.2" cy="676.8" r="6.05"/><circle cx="1090.9" cy="648.5" r="6.05"/><circle cx="1098.7" cy="647.5" r="6.05"/><circle cx="1112.4" cy="638.7" r="6.05"/><circle cx="1116.3" cy="644.5" r="6.05"/><circle cx="1123.1" cy="647.5" r="6.05"/><circle cx="1130.0" cy="649.0" r="6.05"/><circle cx="1097.7" cy="664.6" r="6.05"/><circle cx="1108.5" cy="664.1" r="6.05"/><circle cx="1120.2" cy="659.2" r="6.05"/><circle cx="1125.1" cy="664.1" r="6.05"/><circle cx="1112.4" cy="668.0" r="6.05"/><circle cx="1121.2" cy="671.9" r="6.05"/><circle cx="1054.7" cy="683.6" r="6.05"/><circle cx="1044.5" cy="690.5" r="6.05"/><circle cx="1068.4" cy="682.7" r="6.05"/><circle cx="1076.2" cy="683.6" r="6.05"/><circle cx="1084.0" cy="684.6" r="6.05"/><circle cx="1097.7" cy="686.6" r="6.05"/><circle cx="1070.4" cy="691.5" r="6.05"/><circle cx="1078.2" cy="691.5" r="6.05"/><circle cx="1096.7" cy="693.4" r="6.05"/><circle cx="1063.5" cy="699.3" r="6.05"/><circle cx="1074.3" cy="699.3" r="6.05"/><circle cx="1017.6" cy="700.2" r="6.05"/><circle cx="1034.2" cy="702.2" r="6.05"/><circle cx="1099.7" cy="702.2" r="6.05"/><circle cx="1117.3" cy="702.2" r="6.05"/><circle cx="1034.2" cy="713.6" r="6.05"/><circle cx="1046.9" cy="711.6" r="6.05"/><circle cx="1048.9" cy="723.3" r="6.05"/><circle cx="1037.1" cy="723.3" r="6.05"/><circle cx="1046.9" cy="729.2" r="6.05"/><circle cx="1025.4" cy="733.1" r="6.05"/><circle cx="1026.4" cy="739.0" r="6.05"/><circle cx="1034.2" cy="742.9" r="6.05"/><circle cx="1019.5" cy="750.7" r="6.05"/><circle cx="1031.3" cy="751.7" r="6.05"/><circle cx="1122.2" cy="707.7" r="6.05"/><circle cx="1113.4" cy="715.5" r="6.05"/><circle cx="1121.2" cy="715.5" r="6.05"/><circle cx="1080.1" cy="716.5" r="6.05"/><circle cx="1088.0" cy="720.4" r="6.05"/><circle cx="1099.7" cy="722.4" r="6.05"/><circle cx="1105.5" cy="726.3" r="6.05"/><circle cx="1117.3" cy="727.2" r="6.05"/><circle cx="1089.4" cy="729.2" r="6.05"/><circle cx="1112.4" cy="737.0" r="6.05"/><circle cx="1101.6" cy="737.0" r="6.05"/><circle cx="1093.8" cy="739.0" r="6.05"/><circle cx="1083.1" cy="742.9" r="6.05"/><circle cx="1097.7" cy="745.8" r="6.05"/><circle cx="1103.6" cy="743.9" r="6.05"/><circle cx="1067.9" cy="730.7" r="6.05"/><circle cx="1054.7" cy="743.9" r="6.05"/><circle cx="1060.6" cy="757.5" r="6.05"/><circle cx="1058.6" cy="767.3" r="6.05"/><circle cx="1040.1" cy="768.3" r="6.05"/><circle cx="1046.9" cy="773.2" r="6.05"/><circle cx="1114.3" cy="764.4" r="6.05"/><circle cx="1088.0" cy="774.2" r="6.05"/><circle cx="1060.6" cy="760.5" r="6.05"/><circle cx="1064.5" cy="761.0" r="6.05"/><circle cx="1047.4" cy="776.1" r="6.05"/><circle cx="1045.0" cy="782.5" r="6.05"/><circle cx="1078.2" cy="780.0" r="6.05"/><circle cx="1088.4" cy="778.6" r="6.05"/><circle cx="1104.1" cy="789.8" r="6.05"/><circle cx="1110.4" cy="808.9" r="6.05"/><circle cx="1062.1" cy="821.1" r="6.05"/><circle cx="1029.6" cy="670.0" r="6.05"/><circle cx="1062.3" cy="661.8" r="6.05"/><circle cx="1054.1" cy="663.9" r="6.05"/><circle cx="1066.4" cy="665.9" r="6.05"/><circle cx="1088.9" cy="686.4" r="6.05"/><circle cx="1097.1" cy="690.5" r="6.05"/><circle cx="1095.1" cy="696.6" r="6.05"/><circle cx="1039.8" cy="713.0" r="6.05"/><circle cx="1045.9" cy="721.2" r="6.05"/><circle cx="1050.0" cy="727.3" r="6.05"/><circle cx="1031.6" cy="747.8" r="6.05"/><circle cx="1023.4" cy="751.9" r="6.05"/><circle cx="1093.0" cy="731.4" r="6.05"/><circle cx="1107.3" cy="731.4" r="6.05"/><circle cx="1095.1" cy="743.7" r="6.05"/><circle cx="1072.5" cy="678.2" r="6.05"/><circle cx="1315.3" cy="648.2" r="6.05"/><circle cx="1307.5" cy="660.4" r="6.05"/><circle cx="1307.5" cy="680.9" r="6.05"/><circle cx="1324.1" cy="658.5" r="6.05"/><circle cx="1332.9" cy="653.6" r="6.05"/><circle cx="1339.7" cy="657.5" r="6.05"/><circle cx="1349.5" cy="664.3" r="6.05"/><circle cx="1319.2" cy="668.2" r="6.05"/><circle cx="1330.0" cy="667.2" r="6.05"/><circle cx="1339.7" cy="668.2" r="6.05"/><circle cx="1320.2" cy="678.0" r="6.05"/><circle cx="1349.5" cy="676.0" r="6.05"/><circle cx="1363.2" cy="669.2" r="6.05"/><circle cx="1375.9" cy="654.5" r="6.05"/><circle cx="1373.9" cy="661.4" r="6.05"/><circle cx="1374.9" cy="668.2" r="6.05"/><circle cx="1388.6" cy="669.2" r="6.05"/><circle cx="1399.3" cy="658.5" r="6.05"/><circle cx="1409.1" cy="658.5" r="6.05"/><circle cx="1406.2" cy="666.3" r="6.05"/><circle cx="1399.3" cy="672.1" r="6.05"/><circle cx="1371.0" cy="678.0" r="6.05"/><circle cx="1407.2" cy="682.9" r="6.05"/><circle cx="1411.1" cy="689.7" r="6.05"/><circle cx="1388.6" cy="689.7" r="6.05"/><circle cx="1378.8" cy="689.7" r="6.05"/><circle cx="1339.0" cy="681.0" r="6.05"/><circle cx="1326.0" cy="685.8" r="6.05"/><circle cx="1316.3" cy="687.8" r="6.05"/><circle cx="1302.6" cy="696.6" r="6.05"/><circle cx="1307.5" cy="705.4" r="6.05"/><circle cx="1318.2" cy="697.5" r="6.05"/><circle cx="1331.9" cy="695.6" r="6.05"/><circle cx="1355.4" cy="696.6" r="6.05"/><circle cx="1385.7" cy="697.5" r="6.05"/><circle cx="1399.3" cy="696.6" r="6.05"/><circle cx="1410.1" cy="698.5" r="6.05"/><circle cx="1411.1" cy="707.3" r="6.05"/><circle cx="1386.6" cy="706.3" r="6.05"/><circle cx="1373.0" cy="707.3" r="6.05"/><circle cx="1359.3" cy="705.4" r="6.05"/><circle cx="1348.5" cy="705.4" r="6.05"/><circle cx="1319.2" cy="705.4" r="6.05"/><circle cx="1309.4" cy="712.2" r="6.05"/><circle cx="1306.5" cy="707.9" r="6.05"/><circle cx="1306.0" cy="718.7" r="6.05"/><circle cx="1322.1" cy="707.0" r="6.05"/><circle cx="1330.9" cy="711.8" r="6.05"/><circle cx="1328.0" cy="729.4" r="6.05"/><circle cx="1339.7" cy="728.5" r="6.05"/><circle cx="1349.5" cy="723.6" r="6.05"/><circle cx="1338.7" cy="739.2" r="6.05"/><circle cx="1306.5" cy="741.6" r="6.05"/><circle cx="1359.3" cy="709.9" r="6.05"/><circle cx="1368.1" cy="714.8" r="6.05"/><circle cx="1377.8" cy="708.9" r="6.05"/><circle cx="1388.6" cy="710.9" r="6.05"/><circle cx="1382.7" cy="717.7" r="6.05"/><circle cx="1402.3" cy="714.8" r="6.05"/><circle cx="1394.5" cy="719.7" r="6.05"/><circle cx="1411.1" cy="726.5" r="6.05"/><circle cx="1366.1" cy="724.5" r="6.05"/><circle cx="1373.0" cy="730.4" r="6.05"/><circle cx="1403.2" cy="741.2" r="6.05"/><circle cx="1396.4" cy="747.0" r="6.05"/><circle cx="1387.6" cy="750.0" r="6.05"/><circle cx="1386.6" cy="757.8" r="6.05"/><circle cx="1368.1" cy="742.1" r="6.05"/><circle cx="1348.5" cy="746.0" r="6.05"/><circle cx="1349.5" cy="751.9" r="6.05"/><circle cx="1359.3" cy="751.9" r="6.05"/><circle cx="1373.0" cy="753.9" r="6.05"/><circle cx="1373.9" cy="762.7" r="6.05"/><circle cx="1319.2" cy="760.7" r="6.05"/><circle cx="1312.4" cy="768.5" r="6.05"/><circle cx="1327.0" cy="768.5" r="6.05"/><circle cx="1333.9" cy="775.4" r="6.05"/><circle cx="1343.6" cy="771.5" r="6.05"/><circle cx="1355.4" cy="765.6" r="6.05"/><circle cx="1357.3" cy="775.4" r="6.05"/><circle cx="1321.2" cy="782.2" r="6.05"/><circle cx="1403.2" cy="761.7" r="6.05"/><circle cx="1405.2" cy="770.5" r="6.05"/><circle cx="1392.5" cy="769.5" r="6.05"/><circle cx="1389.6" cy="781.2" r="6.05"/><circle cx="1318.2" cy="776.0" r="6.05"/><circle cx="1343.6" cy="775.0" r="6.05"/><circle cx="1315.3" cy="786.7" r="6.05"/><circle cx="1389.6" cy="776.0" r="6.05"/><circle cx="1389.6" cy="783.8" r="6.05"/><circle cx="1362.2" cy="789.7" r="6.05"/><circle cx="1373.9" cy="790.6" r="6.05"/><circle cx="1383.7" cy="792.6" r="6.05"/><circle cx="1388.6" cy="794.5" r="6.05"/><circle cx="1371.0" cy="798.5" r="6.05"/><circle cx="1374.9" cy="802.4" r="6.05"/><circle cx="1326.0" cy="799.4" r="6.05"/><circle cx="1331.9" cy="799.4" r="6.05"/><circle cx="1325.1" cy="807.2" r="6.05"/><circle cx="1332.9" cy="810.2" r="6.05"/><circle cx="1348.5" cy="799.4" r="6.05"/><circle cx="1349.5" cy="806.3" r="6.05"/><circle cx="1345.6" cy="814.1" r="6.05"/><circle cx="1310.9" cy="812.1" r="6.05"/><circle cx="1310.9" cy="823.9" r="6.05"/><circle cx="1341.7" cy="823.9" r="6.05"/><circle cx="1349.5" cy="826.8" r="6.05"/><circle cx="1354.4" cy="829.7" r="6.05"/><circle cx="1364.2" cy="821.9" r="6.05"/><circle cx="1367.1" cy="827.8" r="6.05"/><circle cx="1408.6" cy="819.0" r="6.05"/><circle cx="1407.2" cy="830.7" r="6.05"/><circle cx="1389.1" cy="847.3" r="6.05"/><circle cx="1400.3" cy="852.2" r="6.05"/><circle cx="1317.7" cy="854.2" r="6.05"/><circle cx="1304.1" cy="865.8" r="6.05"/><circle cx="1308.9" cy="876.0" r="6.05"/><circle cx="1308.0" cy="888.7" r="6.05"/><circle cx="1319.2" cy="892.2" r="6.05"/><circle cx="1344.1" cy="870.2" r="6.05"/><circle cx="1346.1" cy="881.9" r="6.05"/><circle cx="1371.5" cy="860.9" r="6.05"/><circle cx="1381.7" cy="865.3" r="6.05"/><circle cx="1391.0" cy="901.0" r="6.05"/><circle cx="1327.0" cy="659.5" r="6.05"/><circle cx="1331.0" cy="659.5" r="6.05"/><circle cx="1335.0" cy="659.5" r="6.05"/><circle cx="1321.0" cy="662.9" r="6.05"/><circle cx="1325.0" cy="662.9" r="6.05"/><circle cx="1329.0" cy="662.9" r="6.05"/><circle cx="1333.0" cy="662.9" r="6.05"/><circle cx="1337.0" cy="662.9" r="6.05"/><circle cx="1341.0" cy="662.9" r="6.05"/><circle cx="1345.0" cy="662.9" r="6.05"/><circle cx="1377.0" cy="662.9" r="6.05"/><circle cx="1397.0" cy="662.9" r="6.05"/><circle cx="1401.0" cy="662.9" r="6.05"/><circle cx="1405.0" cy="662.9" r="6.05"/><circle cx="1323.0" cy="666.4" r="6.05"/><circle cx="1327.0" cy="666.4" r="6.05"/><circle cx="1335.0" cy="666.4" r="6.05"/><circle cx="1343.0" cy="666.4" r="6.05"/><circle cx="1347.0" cy="666.4" r="6.05"/><circle cx="1351.0" cy="666.4" r="6.05"/><circle cx="1371.0" cy="666.4" r="6.05"/><circle cx="1379.0" cy="666.4" r="6.05"/><circle cx="1395.0" cy="666.4" r="6.05"/><circle cx="1399.0" cy="666.4" r="6.05"/><circle cx="1403.0" cy="666.4" r="6.05"/><circle cx="1325.0" cy="669.9" r="6.05"/><circle cx="1337.0" cy="669.9" r="6.05"/><circle cx="1345.0" cy="669.9" r="6.05"/><circle cx="1349.0" cy="669.9" r="6.05"/><circle cx="1353.0" cy="669.9" r="6.05"/><circle cx="1357.0" cy="669.9" r="6.05"/><circle cx="1369.0" cy="669.9" r="6.05"/><circle cx="1373.0" cy="669.9" r="6.05"/><circle cx="1377.0" cy="669.9" r="6.05"/><circle cx="1381.0" cy="669.9" r="6.05"/><circle cx="1393.0" cy="669.9" r="6.05"/><circle cx="1397.0" cy="669.9" r="6.05"/><circle cx="1401.0" cy="669.9" r="6.05"/><circle cx="1405.0" cy="669.9" r="6.05"/><circle cx="1319.0" cy="673.3" r="6.05"/><circle cx="1323.0" cy="673.3" r="6.05"/><circle cx="1339.0" cy="673.3" r="6.05"/><circle cx="1343.0" cy="673.3" r="6.05"/><circle cx="1347.0" cy="673.3" r="6.05"/><circle cx="1351.0" cy="673.3" r="6.05"/><circle cx="1355.0" cy="673.3" r="6.05"/><circle cx="1359.0" cy="673.3" r="6.05"/><circle cx="1363.0" cy="673.3" r="6.05"/><circle cx="1367.0" cy="673.3" r="6.05"/><circle cx="1371.0" cy="673.3" r="6.05"/><circle cx="1375.0" cy="673.3" r="6.05"/><circle cx="1379.0" cy="673.3" r="6.05"/><circle cx="1383.0" cy="673.3" r="6.05"/><circle cx="1387.0" cy="673.3" r="6.05"/><circle cx="1391.0" cy="673.3" r="6.05"/><circle cx="1395.0" cy="673.3" r="6.05"/><circle cx="1403.0" cy="673.3" r="6.05"/><circle cx="1341.0" cy="676.8" r="6.05"/><circle cx="1345.0" cy="676.8" r="6.05"/><circle cx="1353.0" cy="676.8" r="6.05"/><circle cx="1377.0" cy="676.8" r="6.05"/><circle cx="1381.0" cy="676.8" r="6.05"/><circle cx="1393.0" cy="676.8" r="6.05"/><circle cx="1397.0" cy="676.8" r="6.05"/><circle cx="1401.0" cy="676.8" r="6.05"/><circle cx="1319.0" cy="680.2" r="6.05"/><circle cx="1323.0" cy="680.2" r="6.05"/><circle cx="1343.0" cy="680.2" r="6.05"/><circle cx="1347.0" cy="680.2" r="6.05"/><circle cx="1351.0" cy="680.2" r="6.05"/><circle cx="1375.0" cy="680.2" r="6.05"/><circle cx="1395.0" cy="680.2" r="6.05"/><circle cx="1399.0" cy="680.2" r="6.05"/><circle cx="1403.0" cy="680.2" r="6.05"/><circle cx="1321.0" cy="683.7" r="6.05"/><circle cx="1329.0" cy="683.7" r="6.05"/><circle cx="1333.0" cy="683.7" r="6.05"/><circle cx="1337.0" cy="683.7" r="6.05"/><circle cx="1353.0" cy="683.7" r="6.05"/><circle cx="1369.0" cy="683.7" r="6.05"/><circle cx="1373.0" cy="683.7" r="6.05"/><circle cx="1377.0" cy="683.7" r="6.05"/><circle cx="1397.0" cy="683.7" r="6.05"/><circle cx="1401.0" cy="683.7" r="6.05"/><circle cx="1319.0" cy="687.2" r="6.05"/><circle cx="1323.0" cy="687.2" r="6.05"/><circle cx="1331.0" cy="687.2" r="6.05"/><circle cx="1335.0" cy="687.2" r="6.05"/><circle cx="1355.0" cy="687.2" r="6.05"/><circle cx="1367.0" cy="687.2" r="6.05"/><circle cx="1371.0" cy="687.2" r="6.05"/><circle cx="1375.0" cy="687.2" r="6.05"/><circle cx="1379.0" cy="687.2" r="6.05"/><circle cx="1395.0" cy="687.2" r="6.05"/><circle cx="1399.0" cy="687.2" r="6.05"/><circle cx="1403.0" cy="687.2" r="6.05"/><circle cx="1407.0" cy="687.2" r="6.05"/><circle cx="1309.0" cy="690.6" r="6.05"/><circle cx="1313.0" cy="690.6" r="6.05"/><circle cx="1317.0" cy="690.6" r="6.05"/><circle cx="1321.0" cy="690.6" r="6.05"/><circle cx="1325.0" cy="690.6" r="6.05"/><circle cx="1329.0" cy="690.6" r="6.05"/><circle cx="1333.0" cy="690.6" r="6.05"/><circle cx="1337.0" cy="690.6" r="6.05"/><circle cx="1357.0" cy="690.6" r="6.05"/><circle cx="1361.0" cy="690.6" r="6.05"/><circle cx="1385.0" cy="690.6" r="6.05"/><circle cx="1393.0" cy="690.6" r="6.05"/><circle cx="1397.0" cy="690.6" r="6.05"/><circle cx="1401.0" cy="690.6" r="6.05"/><circle cx="1405.0" cy="690.6" r="6.05"/><circle cx="1307.0" cy="694.1" r="6.05"/><circle cx="1311.0" cy="694.1" r="6.05"/><circle cx="1315.0" cy="694.1" r="6.05"/><circle cx="1319.0" cy="694.1" r="6.05"/><circle cx="1323.0" cy="694.1" r="6.05"/><circle cx="1327.0" cy="694.1" r="6.05"/><circle cx="1335.0" cy="694.1" r="6.05"/><circle cx="1339.0" cy="694.1" r="6.05"/><circle cx="1355.0" cy="694.1" r="6.05"/><circle cx="1359.0" cy="694.1" r="6.05"/><circle cx="1379.0" cy="694.1" r="6.05"/><circle cx="1383.0" cy="694.1" r="6.05"/><circle cx="1387.0" cy="694.1" r="6.05"/><circle cx="1391.0" cy="694.1" r="6.05"/><circle cx="1395.0" cy="694.1" r="6.05"/><circle cx="1399.0" cy="694.1" r="6.05"/><circle cx="1403.0" cy="694.1" r="6.05"/><circle cx="1407.0" cy="694.1" r="6.05"/><circle cx="1309.0" cy="697.6" r="6.05"/><circle cx="1313.0" cy="697.6" r="6.05"/><circle cx="1321.0" cy="697.6" r="6.05"/><circle cx="1325.0" cy="697.6" r="6.05"/><circle cx="1329.0" cy="697.6" r="6.05"/><circle cx="1341.0" cy="697.6" r="6.05"/><circle cx="1345.0" cy="697.6" r="6.05"/><circle cx="1349.0" cy="697.6" r="6.05"/><circle cx="1353.0" cy="697.6" r="6.05"/><circle cx="1361.0" cy="697.6" r="6.05"/><circle cx="1377.0" cy="697.6" r="6.05"/><circle cx="1381.0" cy="697.6" r="6.05"/><circle cx="1389.0" cy="697.6" r="6.05"/><circle cx="1393.0" cy="697.6" r="6.05"/><circle cx="1405.0" cy="697.6" r="6.05"/><circle cx="1315.0" cy="701.0" r="6.05"/><circle cx="1319.0" cy="701.0" r="6.05"/><circle cx="1323.0" cy="701.0" r="6.05"/><circle cx="1347.0" cy="701.0" r="6.05"/><circle cx="1351.0" cy="701.0" r="6.05"/><circle cx="1355.0" cy="701.0" r="6.05"/><circle cx="1359.0" cy="701.0" r="6.05"/><circle cx="1379.0" cy="701.0" r="6.05"/><circle cx="1383.0" cy="701.0" r="6.05"/><circle cx="1387.0" cy="701.0" r="6.05"/><circle cx="1407.0" cy="701.0" r="6.05"/><circle cx="1325.0" cy="704.5" r="6.05"/><circle cx="1345.0" cy="704.5" r="6.05"/><circle cx="1353.0" cy="704.5" r="6.05"/><circle cx="1365.0" cy="704.5" r="6.05"/><circle cx="1377.0" cy="704.5" r="6.05"/><circle cx="1381.0" cy="704.5" r="6.05"/><circle cx="1409.0" cy="704.5" r="6.05"/><circle cx="1319.0" cy="708.0" r="6.05"/><circle cx="1327.0" cy="708.0" r="6.05"/><circle cx="1343.0" cy="708.0" r="6.05"/><circle cx="1347.0" cy="708.0" r="6.05"/><circle cx="1351.0" cy="708.0" r="6.05"/><circle cx="1407.0" cy="708.0" r="6.05"/><circle cx="1405.0" cy="711.4" r="6.05"/><circle cx="1409.0" cy="711.4" r="6.05"/><circle cx="1341.0" cy="660.0" r="6.05"/><circle cx="1376.0" cy="657.0" r="6.05"/><circle cx="1380.0" cy="663.0" r="6.05"/><circle cx="1408.0" cy="661.0" r="6.05"/><circle cx="1410.0" cy="685.0" r="6.05"/><circle cx="1345.0" cy="710.0" r="6.05"/><circle cx="1310.0" cy="700.0" r="6.05"/><circle cx="1305.0" cy="692.0" r="6.05"/><circle cx="1318.0" cy="684.0" r="6.05"/><circle cx="1367.0" cy="712.0" r="6.05"/><circle cx="1371.0" cy="712.0" r="6.05"/><circle cx="1375.0" cy="712.0" r="6.05"/><circle cx="1357.0" cy="715.5" r="6.05"/><circle cx="1361.0" cy="715.5" r="6.05"/><circle cx="1365.0" cy="715.5" r="6.05"/><circle cx="1373.0" cy="715.5" r="6.05"/><circle cx="1377.0" cy="715.5" r="6.05"/><circle cx="1381.0" cy="715.5" r="6.05"/><circle cx="1347.0" cy="718.9" r="6.05"/><circle cx="1351.0" cy="718.9" r="6.05"/><circle cx="1355.0" cy="718.9" r="6.05"/><circle cx="1359.0" cy="718.9" r="6.05"/><circle cx="1363.0" cy="718.9" r="6.05"/><circle cx="1367.0" cy="718.9" r="6.05"/><circle cx="1371.0" cy="718.9" r="6.05"/><circle cx="1375.0" cy="718.9" r="6.05"/><circle cx="1379.0" cy="718.9" r="6.05"/><circle cx="1325.0" cy="722.4" r="6.05"/><circle cx="1329.0" cy="722.4" r="6.05"/><circle cx="1333.0" cy="722.4" r="6.05"/><circle cx="1337.0" cy="722.4" r="6.05"/><circle cx="1341.0" cy="722.4" r="6.05"/><circle cx="1345.0" cy="722.4" r="6.05"/><circle cx="1353.0" cy="722.4" r="6.05"/><circle cx="1357.0" cy="722.4" r="6.05"/><circle cx="1361.0" cy="722.4" r="6.05"/><circle cx="1369.0" cy="722.4" r="6.05"/><circle cx="1373.0" cy="722.4" r="6.05"/><circle cx="1377.0" cy="722.4" r="6.05"/><circle cx="1381.0" cy="722.4" r="6.05"/><circle cx="1327.0" cy="725.9" r="6.05"/><circle cx="1331.0" cy="725.9" r="6.05"/><circle cx="1335.0" cy="725.9" r="6.05"/><circle cx="1339.0" cy="725.9" r="6.05"/><circle cx="1343.0" cy="725.9" r="6.05"/><circle cx="1347.0" cy="725.9" r="6.05"/><circle cx="1351.0" cy="725.9" r="6.05"/><circle cx="1355.0" cy="725.9" r="6.05"/><circle cx="1359.0" cy="725.9" r="6.05"/><circle cx="1363.0" cy="725.9" r="6.05"/><circle cx="1371.0" cy="725.9" r="6.05"/><circle cx="1375.0" cy="725.9" r="6.05"/><circle cx="1379.0" cy="725.9" r="6.05"/><circle cx="1333.0" cy="729.3" r="6.05"/><circle cx="1337.0" cy="729.3" r="6.05"/><circle cx="1345.0" cy="729.3" r="6.05"/><circle cx="1349.0" cy="729.3" r="6.05"/><circle cx="1353.0" cy="729.3" r="6.05"/><circle cx="1365.0" cy="729.3" r="6.05"/><circle cx="1369.0" cy="729.3" r="6.05"/><circle cx="1377.0" cy="729.3" r="6.05"/><circle cx="1331.0" cy="732.8" r="6.05"/><circle cx="1335.0" cy="732.8" r="6.05"/><circle cx="1339.0" cy="732.8" r="6.05"/><circle cx="1343.0" cy="732.8" r="6.05"/><circle cx="1347.0" cy="732.8" r="6.05"/><circle cx="1367.0" cy="732.8" r="6.05"/><circle cx="1371.0" cy="732.8" r="6.05"/><circle cx="1375.0" cy="732.8" r="6.05"/><circle cx="1337.0" cy="736.2" r="6.05"/><circle cx="1341.0" cy="736.2" r="6.05"/><circle cx="1345.0" cy="736.2" r="6.05"/><circle cx="1349.0" cy="736.2" r="6.05"/><circle cx="1335.0" cy="720.0" r="6.05"/><circle cx="1378.0" cy="712.0" r="6.05"/><circle cx="1354.0" cy="744.5" r="6.05"/><circle cx="1358.0" cy="744.5" r="6.05"/><circle cx="1362.0" cy="744.5" r="6.05"/><circle cx="1366.0" cy="744.5" r="6.05"/><circle cx="1352.0" cy="747.9" r="6.05"/><circle cx="1356.0" cy="747.9" r="6.05"/><circle cx="1360.0" cy="747.9" r="6.05"/><circle cx="1364.0" cy="747.9" r="6.05"/><circle cx="1368.0" cy="747.9" r="6.05"/><circle cx="1362.0" cy="751.4" r="6.05"/><circle cx="1366.0" cy="751.4" r="6.05"/><circle cx="1370.0" cy="751.4" r="6.05"/><circle cx="1348.0" cy="742.0" r="6.05"/><circle cx="1372.0" cy="746.0" r="6.05"/><circle cx="1398.0" cy="744.5" r="6.05"/><circle cx="1402.0" cy="744.5" r="6.05"/><circle cx="1406.0" cy="744.5" r="6.05"/><circle cx="1400.0" cy="747.9" r="6.05"/><circle cx="1404.0" cy="747.9" r="6.05"/><circle cx="1390.0" cy="751.4" r="6.05"/><circle cx="1394.0" cy="751.4" r="6.05"/><circle cx="1398.0" cy="751.4" r="6.05"/><circle cx="1388.0" cy="754.9" r="6.05"/><circle cx="1392.0" cy="754.9" r="6.05"/><circle cx="1396.0" cy="754.9" r="6.05"/><circle cx="1390.0" cy="758.3" r="6.05"/><circle cx="1388.0" cy="761.8" r="6.05"/><circle cx="1384.0" cy="756.0" r="6.05"/><circle cx="1392.0" cy="748.0" r="6.05"/><circle cx="1410.0" cy="701.9" r="6.05"/><circle cx="1406.0" cy="715.8" r="6.05"/><circle cx="1410.0" cy="715.8" r="6.05"/><circle cx="1408.0" cy="719.2" r="6.05"/><circle cx="1406.0" cy="722.7" r="6.05"/><circle cx="1410.0" cy="722.7" r="6.05"/><circle cx="1406.0" cy="726.0" r="6.05"/><circle cx="1306.0" cy="697.0" r="6.05"/><circle cx="1306.0" cy="710.9" r="6.05"/></g></g>
<rect x="903.4" y="625.7" width="625.6" height="288.6" fill="none" stroke="#1a1a1a" stroke-width="1.8"/>
<line x1="894.2" y1="846.1" x2="903.4" y2="846.1" stroke="#333333" stroke-width="2"/>
<text transform="translate(886.5,857.1) scale(1,1.035)" font-size="29.3" fill="#424242" stroke="#424242" stroke-width="0.3" text-anchor="end">0.25</text>
<line x1="894.2" y1="769.5" x2="903.4" y2="769.5" stroke="#333333" stroke-width="2"/>
<text transform="translate(886.5,780.5) scale(1,1.035)" font-size="29.3" fill="#424242" stroke="#424242" stroke-width="0.3" text-anchor="end">0.50</text>
<line x1="894.2" y1="692.9" x2="903.4" y2="692.9" stroke="#333333" stroke-width="2"/>
<text transform="translate(886.5,703.9) scale(1,1.035)" font-size="29.3" fill="#424242" stroke="#424242" stroke-width="0.3" text-anchor="end">0.75</text>
<line x1="1074.0" y1="914.3" x2="1074.0" y2="923.5" stroke="#333333" stroke-width="2"/>
<text transform="translate(1074.0,953.3) scale(1,1.02)" font-size="29.3" fill="#424242" stroke="#424242" stroke-width="0.3" text-anchor="middle">Hard</text>
<line x1="1358.4" y1="914.3" x2="1358.4" y2="923.5" stroke="#333333" stroke-width="2"/>
<text transform="translate(1358.4,953.3) scale(1,1.02)" font-size="29.3" fill="#424242" stroke="#424242" stroke-width="0.3" text-anchor="middle">Soft</text>
<text transform="translate(1216.2,996.9)" font-size="36.8" fill="#000" stroke="#000" stroke-width="0.3" text-anchor="middle">Dominant substrate texture</text>
<g clip-path="url(#cbot)"><text transform="translate(813.1,770.0) rotate(-90)" font-size="36.8" fill="#000" stroke="#000" stroke-width="0.3" text-anchor="middle">Simpson&#39;s diversity</text></g>
<text transform="translate(850.5,603.9) scale(1,1.03)" font-size="33.5" fill="#000" font-weight="bold">D</text>
</svg>
</body></html>
